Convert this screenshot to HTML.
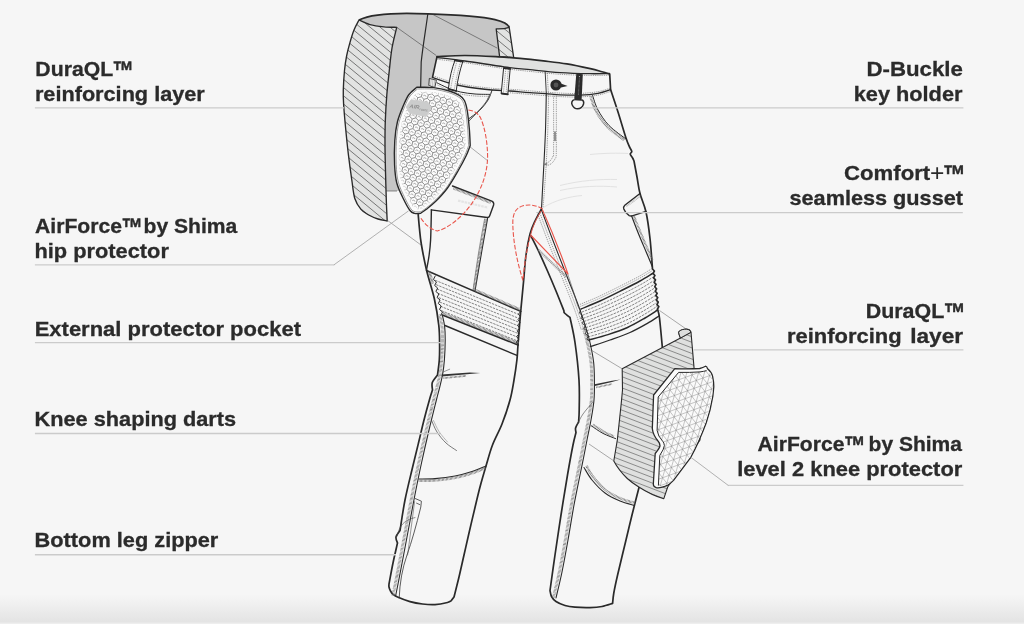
<!DOCTYPE html>
<html><head><meta charset="utf-8"><title>Pants features diagram</title>
<style>
html,body{margin:0;padding:0;background:#f6f6f6;}
body{width:1024px;height:624px;overflow:hidden;font-family:"Liberation Sans",sans-serif;}
svg{display:block;}
</style></head><body>
<svg width="1024" height="624" viewBox="0 0 1024 624">

<defs>
<filter id="noop" x="0" y="0" width="1024" height="624" filterUnits="userSpaceOnUse"><feOffset dx="0" dy="0"/></filter>
<linearGradient id="botg" x1="0" y1="0" x2="0" y2="1">
<stop offset="0" stop-color="#f6f6f6"/><stop offset="1" stop-color="#e3e3e3"/></linearGradient>
<pattern id="hatchA" width="6.4" height="6.4" patternUnits="userSpaceOnUse" patternTransform="translate(343.8 112.5) rotate(39.5)">
<rect width="6.4" height="6.4" fill="#e2e3e2"/><line x1="-1" y1="3.2" x2="7.4" y2="3.2" stroke="#3a3a3a" stroke-width="0.6"/></pattern>
<pattern id="hatchB" width="5.1" height="5.1" patternUnits="userSpaceOnUse" patternTransform="translate(622 371) rotate(21)">
<rect width="5.1" height="5.1" fill="#dfe0df"/><line x1="-1" y1="2.5" x2="6.1" y2="2.5" stroke="#444" stroke-width="0.55"/></pattern>
<pattern id="hex" width="6.2" height="10.74" patternUnits="userSpaceOnUse" patternTransform="translate(417 88) rotate(13)">
<rect width="6.2" height="10.74" fill="#f4f4f4"/>
<g fill="none" stroke="#8a8a8a" stroke-width="0.55">
<path d="M3.1,0.0 L6.2,1.79 L6.2,5.37 L3.1,7.16 L0,5.37 L0,1.79 Z"/>
<path d="M3.1,7.16 L3.1,10.74"/>
<path d="M1.7,4.6 A1.5,1.5 0 0 1 4.5,4.6" stroke="#777"/>
<path d="M-1.4,9.97 A1.5,1.5 0 0 1 1.4,9.97" stroke="#777"/>
<path d="M4.8,9.97 A1.5,1.5 0 0 1 7.6,9.97" stroke="#777"/>
</g></pattern>
<clipPath id="kneeclip"><path d="M658.2,397 L678.6,372.4 Q690,372.6 700,371.9 Q704,371.4 706.6,370.6 Q710.8,373 711.8,377 Q712.9,382 712.9,386.7 L712,395.8 Q709.7,410 705.4,422.4 Q698.2,441.6 690,456.8 L672.8,479.8 Q669.6,483.2 667.3,484.4 Q661,487 658.4,485.6 L659.8,455.4 Q664,449 664.4,445.6 Q664,442.6 662.9,441.6 Q657.8,436 657.1,430.4 Z"/></clipPath>
</defs>
<rect width="1024" height="624" fill="#f6f6f6"/>
<rect x="0" y="594.5" width="1024" height="28.3" fill="url(#botg)"/><rect x="0" y="622.8" width="1024" height="1.2" fill="#eeeeee"/>
<path d="M359,20 C372,13.5 400,12.6 428,13.9 C455,14.8 482,16.6 495,19.6 C503,21.6 508,24 509.3,27.2 L513.7,57.7 L437,57 L425,120 L420,191 L384,191 L384,60 L396.7,27.3 C385,27 370,25 359,20 Z" fill="#c6c6c6"/>
<clipPath id="hc1"><path d="M359.00,20.00 C360.83,20.77 365.83,23.47 370.00,24.60 C374.17,25.73 379.55,26.35 384.00,26.80 C388.45,27.25 394.58,27.22 396.70,27.30 C395.92,30.75 393.23,40.80 392.00,48.00 C390.77,55.20 390.17,62.67 389.30,70.50 C388.43,78.33 387.47,86.58 386.80,95.00 C386.13,103.42 385.60,112.67 385.30,121.00 C385.00,129.33 384.97,136.58 385.00,145.00 C385.03,153.42 385.28,162.33 385.50,171.50 C385.72,180.67 386.02,191.75 386.30,200.00 C386.58,208.25 387.05,217.50 387.20,221.00 C385.67,220.67 381.08,220.00 378.00,219.00 C374.92,218.00 371.53,216.60 368.70,215.00 C365.87,213.40 363.32,212.15 361.00,209.40 C358.68,206.65 356.33,203.40 354.80,198.50 C353.27,193.60 352.87,187.30 351.80,180.00 C350.73,172.70 349.43,163.37 348.40,154.70 C347.37,146.03 346.40,136.45 345.60,128.00 C344.80,119.55 343.98,110.33 343.60,104.00 C343.22,97.67 343.15,95.58 343.30,90.00 C343.45,84.42 343.95,76.17 344.50,70.50 C345.05,64.83 345.68,60.68 346.60,56.00 C347.52,51.32 348.77,46.73 350.00,42.40 C351.23,38.07 352.50,33.73 354.00,30.00 C355.50,26.27 358.17,21.67 359.00,20.00 Z"/></clipPath>
<path d="M359.00,20.00 C360.83,20.77 365.83,23.47 370.00,24.60 C374.17,25.73 379.55,26.35 384.00,26.80 C388.45,27.25 394.58,27.22 396.70,27.30 C395.92,30.75 393.23,40.80 392.00,48.00 C390.77,55.20 390.17,62.67 389.30,70.50 C388.43,78.33 387.47,86.58 386.80,95.00 C386.13,103.42 385.60,112.67 385.30,121.00 C385.00,129.33 384.97,136.58 385.00,145.00 C385.03,153.42 385.28,162.33 385.50,171.50 C385.72,180.67 386.02,191.75 386.30,200.00 C386.58,208.25 387.05,217.50 387.20,221.00 C385.67,220.67 381.08,220.00 378.00,219.00 C374.92,218.00 371.53,216.60 368.70,215.00 C365.87,213.40 363.32,212.15 361.00,209.40 C358.68,206.65 356.33,203.40 354.80,198.50 C353.27,193.60 352.87,187.30 351.80,180.00 C350.73,172.70 349.43,163.37 348.40,154.70 C347.37,146.03 346.40,136.45 345.60,128.00 C344.80,119.55 343.98,110.33 343.60,104.00 C343.22,97.67 343.15,95.58 343.30,90.00 C343.45,84.42 343.95,76.17 344.50,70.50 C345.05,64.83 345.68,60.68 346.60,56.00 C347.52,51.32 348.77,46.73 350.00,42.40 C351.23,38.07 352.50,33.73 354.00,30.00 C355.50,26.27 358.17,21.67 359.00,20.00 Z" fill="#e2e3e2"/>
<path d="M363.6,-44.0L532.2,95.0M359.6,-39.1L528.1,99.9M355.6,-34.2L524.1,104.8M351.5,-29.3L520.0,109.7M347.5,-24.4L516.0,114.6M343.4,-19.5L512.0,119.5M339.4,-14.6L507.9,124.4M335.4,-9.7L503.9,129.3M331.3,-4.8L499.9,134.2M327.3,0.1L495.8,139.1M323.2,5.0L491.8,144.0M319.2,9.9L487.7,148.9M315.2,14.8L483.7,153.8M311.1,19.7L479.7,158.7M307.1,24.6L475.6,163.6M303.1,29.5L471.6,168.5M299.0,34.4L467.5,173.4M295.0,39.3L463.5,178.3M290.9,44.2L459.5,183.2M286.9,49.1L455.4,188.1M282.9,54.0L451.4,193.0M278.8,58.9L447.3,197.9M274.8,63.8L443.3,202.8M270.7,68.7L439.3,207.7M266.7,73.6L435.2,212.6M262.7,78.5L431.2,217.5M258.6,83.4L427.1,222.4M254.6,88.3L423.1,227.3M250.5,93.2L419.1,232.2M246.5,98.1L415.0,237.1M242.5,103.0L411.0,242.0M238.4,107.9L407.0,246.9M234.4,112.8L402.9,251.8M230.3,117.7L398.9,256.7M226.3,122.6L394.8,261.6M222.3,127.5L390.8,266.5M218.2,132.4L386.8,271.4M214.2,137.3L382.7,276.3M210.2,142.2L378.7,281.2" clip-path="url(#hc1)" fill="none" stroke="#3a3a3a" stroke-width="0.65"/>
<path d="M359.00,20.00 C360.83,20.77 365.83,23.47 370.00,24.60 C374.17,25.73 379.55,26.35 384.00,26.80 C388.45,27.25 394.58,27.22 396.70,27.30 C395.92,30.75 393.23,40.80 392.00,48.00 C390.77,55.20 390.17,62.67 389.30,70.50 C388.43,78.33 387.47,86.58 386.80,95.00 C386.13,103.42 385.60,112.67 385.30,121.00 C385.00,129.33 384.97,136.58 385.00,145.00 C385.03,153.42 385.28,162.33 385.50,171.50 C385.72,180.67 386.02,191.75 386.30,200.00 C386.58,208.25 387.05,217.50 387.20,221.00 C385.67,220.67 381.08,220.00 378.00,219.00 C374.92,218.00 371.53,216.60 368.70,215.00 C365.87,213.40 363.32,212.15 361.00,209.40 C358.68,206.65 356.33,203.40 354.80,198.50 C353.27,193.60 352.87,187.30 351.80,180.00 C350.73,172.70 349.43,163.37 348.40,154.70 C347.37,146.03 346.40,136.45 345.60,128.00 C344.80,119.55 343.98,110.33 343.60,104.00 C343.22,97.67 343.15,95.58 343.30,90.00 C343.45,84.42 343.95,76.17 344.50,70.50 C345.05,64.83 345.68,60.68 346.60,56.00 C347.52,51.32 348.77,46.73 350.00,42.40 C351.23,38.07 352.50,33.73 354.00,30.00 C355.50,26.27 358.17,21.67 359.00,20.00 Z" fill="none" stroke="#2a2a2a" stroke-width="1.35" stroke-linejoin="round"/>
<clipPath id="hc2"><path d="M496.2,28.8 C501,29 506,28.4 509.2,27.3 L513.7,57.7 L499.6,56.6 Z"/></clipPath>
<path d="M496.2,28.8 C501,29 506,28.4 509.2,27.3 L513.7,57.7 L499.6,56.6 Z" fill="#e2e3e2"/>
<path d="M507.8,6.6L539.7,32.9M503.7,11.6L535.6,37.9M499.6,16.6L531.5,42.9M495.5,21.5L527.4,47.8M491.4,26.5L523.3,52.8M487.3,31.5L519.2,57.8M483.2,36.5L515.1,62.8M479.1,41.5L511.0,67.7M475.0,46.4L506.9,72.7M470.9,51.4L502.8,77.7M466.8,56.4L498.7,82.7" clip-path="url(#hc2)" fill="none" stroke="#3a3a3a" stroke-width="0.65"/>
<path d="M496.2,28.8 C501,29 506,28.4 509.2,27.3 L513.7,57.7 L499.6,56.6 Z" fill="none" stroke="#2a2a2a" stroke-width="1.3" stroke-linejoin="round"/>
<path d="M359,20 C372,13.5 400,12.6 428,13.9 C455,14.8 482,16.6 495,19.6 C503,21.6 508,24 509.3,27.2" fill="none" stroke="#2a2a2a" stroke-width="1.6"/>
<path d="M427.8,14 C426,28 423,45 421.2,62 L420.6,90" fill="none" stroke="#2a2a2a" stroke-width="1.2"/>
<path d="M432.9,14.5 L497.4,48.2 M396.7,27.3 L436.3,55.5 M386,191 H397" fill="none" stroke="#444" stroke-width="0.6"/>
<path d="M387.6,220.5 L421,245 " fill="none" stroke="#777" stroke-width="0.6"/>
<path d="M437,56.7 C441.67,56.50 454.75,55.48 465.00,55.50 C475.25,55.52 489.33,56.32 498.50,56.80 C507.67,57.28 512.52,57.72 520.00,58.40 C527.48,59.08 535.58,59.98 543.40,60.90 C551.22,61.82 559.08,62.60 566.90,63.90 C574.72,65.20 584.45,67.38 590.30,68.70 C596.15,70.02 598.77,70.92 602.00,71.80 C605.23,72.68 608.42,73.63 609.70,74.00 L610.60,89.60 C611.83,93.33 615.43,103.93 618.00,112.00 C620.57,120.07 624.08,132.17 626.00,138.00 C627.92,143.83 628.92,145.50 629.50,147.00 C629.88,147.75 631.68,150.33 631.80,151.50 C631.92,152.67 630.07,152.92 630.20,154.00 C630.33,155.08 631.97,156.83 632.60,158.00 C633.23,159.17 633.77,160.50 634.00,161.00 C634.50,163.67 636.00,171.58 637.00,177.00 C638.00,182.42 638.50,187.67 640.00,193.50 C641.50,199.33 644.33,204.50 646.00,212.00 C647.67,219.50 648.92,229.00 650.00,238.50 C651.08,248.00 652.08,263.92 652.50,269.00 L652.50,269.00 L654.37,271.02 L653.06,273.44 L654.92,275.47 L653.61,277.89 L655.48,279.91 L654.17,282.33 L656.03,284.36 L654.72,286.78 L656.59,288.80 L655.28,291.22 L657.14,293.25 L655.83,295.67 L657.70,297.69 L656.39,300.11 L658.25,302.13 L656.94,304.56 L658.81,306.58 L657.50,309.00 C657.83,310.50 658.67,311.33 659.50,318.00 C660.33,324.67 661.92,337.83 662.50,349.00 C663.08,360.17 663.75,371.50 663.00,385.00 C662.25,398.50 660.17,417.17 658.00,430.00 C655.83,442.83 653.17,452.42 650.00,462.00 C646.83,471.58 640.83,483.25 639.00,487.50 C637.83,492.08 634.17,506.25 632.00,515.00 C629.83,523.75 628.40,530.00 626.00,540.00 C623.60,550.00 619.63,566.17 617.60,575.00 C615.57,583.83 614.63,588.27 613.80,593.00 C612.97,597.73 612.80,601.67 612.60,603.40 C610.83,603.92 605.77,605.80 602.00,606.50 C598.23,607.20 594.50,607.48 590.00,607.60 C585.50,607.72 579.17,607.55 575.00,607.20 C570.83,606.85 568.17,606.45 565.00,605.50 C561.83,604.55 558.25,603.00 556.00,601.50 C553.75,600.00 552.50,598.33 551.50,596.50 C550.50,594.67 550.25,591.50 550.00,590.50 C550.83,584.58 553.17,567.58 555.00,555.00 C556.83,542.42 558.92,528.33 561.00,515.00 C563.08,501.67 565.50,486.67 567.50,475.00 C569.50,463.33 571.58,452.08 573.00,445.00 C574.42,437.92 575.50,434.58 576.00,432.50 C575.93,431.75 575.17,429.75 575.60,428.00 C576.03,426.25 578.10,423.00 578.60,422.00 C578.70,420.00 579.13,417.00 579.20,410.00 C579.27,403.00 579.70,391.25 579.00,380.00 C578.30,368.75 576.50,352.92 575.00,342.50 C573.50,332.08 570.83,321.67 570.00,317.50 C569.08,316.75 565.50,314.08 564.50,313.00 C563.50,311.92 564.08,311.33 564.00,311.00 C562.67,307.67 558.75,297.67 556.00,291.00 C553.25,284.33 550.50,277.83 547.50,271.00 C544.50,264.17 540.75,255.83 538.00,250.00 C535.25,244.17 532.17,238.33 531.00,236.00 L530.00,234.00 C529.33,237.50 527.07,247.17 526.00,255.00 C524.93,262.83 524.48,271.60 523.60,281.00 C522.72,290.40 521.63,300.73 520.70,311.40 C519.77,322.07 518.63,336.90 518.00,345.00 C517.37,353.10 517.57,354.17 516.90,360.00 C516.23,365.83 515.15,373.33 514.00,380.00 C512.85,386.67 512.00,392.67 510.00,400.00 C508.00,407.33 504.92,416.50 502.00,424.00 C499.08,431.50 495.17,438.00 492.50,445.00 C489.83,452.00 488.08,459.00 486.00,466.00 C483.92,473.00 481.83,480.08 480.00,487.00 C478.17,493.92 476.83,499.83 475.00,507.50 C473.17,515.17 470.83,525.08 469.00,533.00 C467.17,540.92 465.67,547.67 464.00,555.00 C462.33,562.33 460.67,570.00 459.00,577.00 C457.33,584.00 454.83,593.67 454.00,597.00 C453.50,597.63 452.08,599.88 451.00,600.80 C449.92,601.72 450.17,601.87 447.50,602.50 C444.83,603.13 439.17,604.35 435.00,604.60 C430.83,604.85 426.67,604.50 422.50,604.00 C418.33,603.50 414.17,602.77 410.00,601.60 C405.83,600.43 400.33,598.22 397.50,597.00 C394.67,595.78 394.17,595.30 393.00,594.30 C391.83,593.30 391.17,592.22 390.50,591.00 C389.83,589.78 389.25,588.17 389.00,587.00 C388.75,585.83 389.00,584.50 389.00,584.00 C389.67,580.50 391.58,569.83 393.00,563.00 C394.42,556.17 396.75,546.33 397.50,543.00 C397.25,542.00 395.58,539.08 396.00,537.00 C396.42,534.92 399.33,531.58 400.00,530.50 C400.83,525.42 402.93,510.42 405.00,500.00 C407.07,489.58 410.13,477.58 412.40,468.00 C414.67,458.42 416.67,450.50 418.60,442.50 C420.53,434.50 422.20,427.08 424.00,420.00 C425.80,412.92 427.98,405.00 429.40,400.00 C430.82,395.00 431.98,391.67 432.50,390.00 C432.47,388.75 431.47,385.00 432.30,382.50 C433.13,380.00 436.63,376.25 437.50,375.00 C437.80,372.50 438.95,365.00 439.30,360.00 C439.65,355.00 439.68,350.75 439.60,345.00 C439.52,339.25 439.67,333.17 438.80,325.50 C437.93,317.83 436.45,308.25 434.40,299.00 C432.35,289.75 428.68,279.17 426.50,270.00 C424.32,260.83 422.48,251.00 421.30,244.00 C420.12,237.00 419.92,232.92 419.40,228.00 C418.88,223.08 418.40,216.75 418.20,214.50 C418.67,203.75 419.20,171.42 421.00,150.00 C422.80,128.58 427.50,97.83 429.00,86.00 C430.50,74.17 429.42,80.43 430.00,79.00 C430.58,77.57 432.08,77.67 432.50,77.40 L437.00,56.70 Z" fill="#f6f6f6"/>
<path d="M437,56.7 C441.67,56.50 454.75,55.48 465.00,55.50 C475.25,55.52 489.33,56.32 498.50,56.80 C507.67,57.28 512.52,57.72 520.00,58.40 C527.48,59.08 535.58,59.98 543.40,60.90 C551.22,61.82 559.08,62.60 566.90,63.90 C574.72,65.20 584.45,67.38 590.30,68.70 C596.15,70.02 598.77,70.92 602.00,71.80 C605.23,72.68 608.42,73.63 609.70,74.00 L609.5,73.5 C606.25,73.53 598.25,73.85 590.00,73.70 C581.75,73.55 570.00,73.27 560.00,72.60 C550.00,71.93 539.32,70.67 530.00,69.70 C520.68,68.73 514.95,68.25 504.10,66.80 C493.25,65.35 476.02,62.53 464.90,61.00 C453.78,59.47 441.98,58.17 437.40,57.60 Z" fill="#e0e1e0"/>
<path d="M590,154.5 C605,153 618,153 628,153.5" fill="none" stroke="#e2e2e2" stroke-width="1"/>
<path d="M560,185.5 C580,180.5 600,179 617,179.5" fill="none" stroke="#e2e2e2" stroke-width="1"/>
<path d="M560,190.5 C580,186 600,185.5 617,187" fill="none" stroke="#e2e2e2" stroke-width="1"/>
<path d="M542.5,208 C555,200 570,196.5 582,195.5" fill="none" stroke="#e2e2e2" stroke-width="1"/>
<path d="M437.00,56.70 C441.67,56.50 454.75,55.48 465.00,55.50 C475.25,55.52 489.33,56.32 498.50,56.80 C507.67,57.28 512.52,57.72 520.00,58.40 C527.48,59.08 535.58,59.98 543.40,60.90 C551.22,61.82 559.08,62.60 566.90,63.90 C574.72,65.20 584.45,67.38 590.30,68.70 C596.15,70.02 598.77,70.92 602.00,71.80 C605.23,72.68 608.42,73.63 609.70,74.00 L610.60,89.60 C611.83,93.33 615.43,103.93 618.00,112.00 C620.57,120.07 624.08,132.17 626.00,138.00 C627.92,143.83 628.92,145.50 629.50,147.00 C629.88,147.75 631.68,150.33 631.80,151.50 C631.92,152.67 630.07,152.92 630.20,154.00 C630.33,155.08 631.97,156.83 632.60,158.00 C633.23,159.17 633.77,160.50 634.00,161.00 C634.50,163.67 636.00,171.58 637.00,177.00 C638.00,182.42 638.50,187.67 640.00,193.50 C641.50,199.33 644.33,204.50 646.00,212.00 C647.67,219.50 648.92,229.00 650.00,238.50 C651.08,248.00 652.08,263.92 652.50,269.00 L652.50,269.00 L654.37,271.02 L653.06,273.44 L654.92,275.47 L653.61,277.89 L655.48,279.91 L654.17,282.33 L656.03,284.36 L654.72,286.78 L656.59,288.80 L655.28,291.22 L657.14,293.25 L655.83,295.67 L657.70,297.69 L656.39,300.11 L658.25,302.13 L656.94,304.56 L658.81,306.58 L657.50,309.00 C657.83,310.50 658.67,311.33 659.50,318.00 C660.33,324.67 662.00,343.83 662.50,349.00 " fill="none" stroke="#2a2a2a" stroke-width="1.7" stroke-linejoin="round" stroke-linecap="round" />
<path d="M639.00,487.50 C637.83,492.08 634.17,506.25 632.00,515.00 C629.83,523.75 628.40,530.00 626.00,540.00 C623.60,550.00 619.63,566.17 617.60,575.00 C615.57,583.83 614.63,588.27 613.80,593.00 C612.97,597.73 612.80,601.67 612.60,603.40 C610.83,603.92 605.77,605.80 602.00,606.50 C598.23,607.20 594.50,607.48 590.00,607.60 C585.50,607.72 579.17,607.55 575.00,607.20 C570.83,606.85 568.17,606.45 565.00,605.50 C561.83,604.55 558.25,603.00 556.00,601.50 C553.75,600.00 552.50,598.33 551.50,596.50 C550.50,594.67 550.25,591.50 550.00,590.50 C550.83,584.58 553.17,567.58 555.00,555.00 C556.83,542.42 558.92,528.33 561.00,515.00 C563.08,501.67 565.50,486.67 567.50,475.00 C569.50,463.33 571.58,452.08 573.00,445.00 C574.42,437.92 575.50,434.58 576.00,432.50 C575.93,431.75 575.17,429.75 575.60,428.00 C576.03,426.25 578.10,423.00 578.60,422.00 C578.70,420.00 579.13,417.00 579.20,410.00 C579.27,403.00 579.70,391.25 579.00,380.00 C578.30,368.75 576.50,352.92 575.00,342.50 C573.50,332.08 570.83,321.67 570.00,317.50 C569.08,316.75 565.50,314.08 564.50,313.00 C563.50,311.92 564.08,311.33 564.00,311.00 C562.67,307.67 558.75,297.67 556.00,291.00 C553.25,284.33 550.50,277.83 547.50,271.00 C544.50,264.17 540.75,255.83 538.00,250.00 C535.25,244.17 532.17,238.33 531.00,236.00 " fill="none" stroke="#2a2a2a" stroke-width="1.7" stroke-linejoin="round" stroke-linecap="round" />
<path d="M541.50,209.00 C540.42,211.00 536.92,216.83 535.00,221.00 C533.08,225.17 531.50,228.33 530.00,234.00 C528.50,239.67 527.07,247.17 526.00,255.00 C524.93,262.83 524.48,271.60 523.60,281.00 C522.72,290.40 521.63,300.73 520.70,311.40 C519.77,322.07 518.63,336.90 518.00,345.00 C517.37,353.10 517.57,354.17 516.90,360.00 C516.23,365.83 515.15,373.33 514.00,380.00 C512.85,386.67 512.00,392.67 510.00,400.00 C508.00,407.33 504.92,416.50 502.00,424.00 C499.08,431.50 495.17,438.00 492.50,445.00 C489.83,452.00 488.08,459.00 486.00,466.00 C483.92,473.00 481.83,480.08 480.00,487.00 C478.17,493.92 476.83,499.83 475.00,507.50 C473.17,515.17 470.83,525.08 469.00,533.00 C467.17,540.92 465.67,547.67 464.00,555.00 C462.33,562.33 460.67,570.00 459.00,577.00 C457.33,584.00 454.83,593.67 454.00,597.00 C453.50,597.63 452.08,599.88 451.00,600.80 C449.92,601.72 450.17,601.87 447.50,602.50 C444.83,603.13 439.17,604.35 435.00,604.60 C430.83,604.85 426.67,604.50 422.50,604.00 C418.33,603.50 414.17,602.77 410.00,601.60 C405.83,600.43 400.33,598.22 397.50,597.00 C394.67,595.78 394.17,595.30 393.00,594.30 C391.83,593.30 391.17,592.22 390.50,591.00 C389.83,589.78 389.25,588.17 389.00,587.00 C388.75,585.83 389.00,584.50 389.00,584.00 C389.67,580.50 391.58,569.83 393.00,563.00 C394.42,556.17 396.75,546.33 397.50,543.00 C397.25,542.00 395.58,539.08 396.00,537.00 C396.42,534.92 399.33,531.58 400.00,530.50 C400.83,525.42 402.93,510.42 405.00,500.00 C407.07,489.58 410.13,477.58 412.40,468.00 C414.67,458.42 416.67,450.50 418.60,442.50 C420.53,434.50 422.20,427.08 424.00,420.00 C425.80,412.92 427.98,405.00 429.40,400.00 C430.82,395.00 431.98,391.67 432.50,390.00 C432.47,388.75 431.47,385.00 432.30,382.50 C433.13,380.00 436.63,376.25 437.50,375.00 C437.80,372.50 438.95,365.00 439.30,360.00 C439.65,355.00 439.68,350.75 439.60,345.00 C439.52,339.25 439.67,333.17 438.80,325.50 C437.93,317.83 436.45,308.25 434.40,299.00 C432.35,289.75 428.68,279.17 426.50,270.00 C424.32,260.83 422.48,251.00 421.30,244.00 C420.12,237.00 419.92,232.92 419.40,228.00 C418.88,223.08 418.40,216.75 418.20,214.50 " fill="none" stroke="#2a2a2a" stroke-width="1.7" stroke-linejoin="round" stroke-linecap="round" />
<path d="M432.50,77.40 L437.00,56.70 " fill="none" stroke="#2a2a2a" stroke-width="1.6" stroke-linejoin="round" stroke-linecap="round" />
<path d="M437.40,57.60 C441.98,58.17 453.78,59.47 464.90,61.00 C476.02,62.53 493.25,65.35 504.10,66.80 C514.95,68.25 520.68,68.73 530.00,69.70 C539.32,70.67 550.00,71.93 560.00,72.60 C570.00,73.27 581.75,73.55 590.00,73.70 C598.25,73.85 606.25,73.53 609.50,73.50 " fill="none" stroke="#2a2a2a" stroke-width="1.3" stroke-linejoin="round" stroke-linecap="round" />
<path d="M432.50,77.40 C435.30,78.33 443.50,81.40 449.30,83.00 C455.10,84.60 460.18,85.83 467.30,87.00 C474.42,88.17 484.88,89.33 492.00,90.00 C499.12,90.67 503.67,90.57 510.00,91.00 C516.33,91.43 521.67,91.97 530.00,92.60 C538.33,93.23 551.67,94.38 560.00,94.80 C568.33,95.22 573.67,95.35 580.00,95.10 C586.33,94.85 592.90,94.22 598.00,93.30 C603.10,92.38 608.50,90.22 610.60,89.60 " fill="none" stroke="#2a2a2a" stroke-width="1.3" stroke-linejoin="round" stroke-linecap="round" />
<path d="M437.40,59.30 C441.98,59.87 453.78,61.17 464.90,62.70 C476.02,64.23 493.25,67.05 504.10,68.50 C514.95,69.95 520.68,70.43 530.00,71.40 C539.32,72.37 550.00,73.63 560.00,74.30 C570.00,74.97 581.75,75.25 590.00,75.40 C598.25,75.55 606.25,75.23 609.50,75.20 " fill="none" stroke="#555" stroke-width="0.55" stroke-dasharray="1.3 0.9"/>
<path d="M432.80,75.70 C435.60,76.63 443.80,79.70 449.60,81.30 C455.40,82.90 460.48,84.13 467.60,85.30 C474.72,86.47 485.18,87.63 492.30,88.30 C499.42,88.97 503.97,88.87 510.30,89.30 C516.63,89.73 521.97,90.27 530.30,90.90 C538.63,91.53 551.97,92.68 560.30,93.10 C568.63,93.52 573.97,93.65 580.30,93.40 C586.63,93.15 593.20,92.52 598.30,91.60 C603.40,90.68 608.80,88.52 610.90,87.90 " fill="none" stroke="#555" stroke-width="0.55" stroke-dasharray="1.3 0.9"/>
<path d="M510.00,92.80 C513.33,93.07 521.67,93.77 530.00,94.40 C538.33,95.03 551.67,96.18 560.00,96.60 C568.33,97.02 573.67,97.15 580.00,96.90 C586.33,96.65 592.90,96.02 598.00,95.10 C603.10,94.18 608.50,92.02 610.60,91.40 " fill="none" stroke="#555" stroke-width="0.55" stroke-dasharray="1.3 0.9"/>
<path d="M437.00,82.80 C438.83,83.67 444.08,86.47 448.00,88.00 C451.92,89.53 456.00,91.00 460.50,92.00 C465.00,93.00 470.13,93.60 475.00,94.00 C479.87,94.40 487.25,94.33 489.70,94.40 " fill="none" stroke="#2a2a2a" stroke-width="1.0" stroke-linejoin="round" stroke-linecap="round" />
<path d="M437.50,85.00 C439.25,85.83 444.17,88.50 448.00,90.00 C451.83,91.50 456.00,93.00 460.50,94.00 C465.00,95.00 470.42,95.62 475.00,96.00 C479.58,96.38 485.83,96.25 488.00,96.30 " fill="none" stroke="#555" stroke-width="0.55" stroke-dasharray="1.3 0.9"/>
<path d="M429.7,78.5 L436.4,80.2 L434.8,87.5 L429.2,85.6 Z" fill="#f6f6f6" stroke="#2a2a2a" stroke-width="0.9" stroke-linejoin="round" stroke-linecap="round" />
<path d="M431.2,79 L430.6,86 M433,79.4 L432.4,86.6 M434.8,79.8 L433.9,87.2" fill="none" stroke="#666" stroke-width="0.4" stroke-linejoin="round" stroke-linecap="round" />
<path d="M455,60.3 L462.8,61.6 C460,70 457.5,80 456.2,91 L448.4,88.8 C449.5,78 452,68 455,60.3 Z" fill="#f6f6f6" stroke="#2a2a2a" stroke-width="1.0" stroke-linejoin="round" stroke-linecap="round" />
<path d="M457,61 C454.5,70 452,80 450.6,89.3 M460.6,61.6 C458,71 455.6,81 454.2,90.3" fill="none" stroke="#555" stroke-width="0.5" stroke-dasharray="1.3 0.9"/>
<path d="M455,60.3 L462.8,61.6 M448.4,88.8 L456.2,91" fill="none" stroke="#2a2a2a" stroke-width="1.8" stroke-linejoin="round" stroke-linecap="round" />
<path d="M504,68 L510.2,68.8 L507.8,94.3 L501.6,93.5 Z" fill="#f6f6f6" stroke="#2a2a2a" stroke-width="1.0" stroke-linejoin="round" stroke-linecap="round" />
<path d="M505.8,68.6 L503.4,93.6 M508.4,68.9 L506,94" fill="none" stroke="#555" stroke-width="0.5" stroke-dasharray="1.3 0.9"/>
<path d="M504,68 L510.2,68.8 M501.6,93.5 L507.8,94.3" fill="none" stroke="#2a2a2a" stroke-width="1.8" stroke-linejoin="round" stroke-linecap="round" />
<path d="M546.30,93.30 C546.17,99.42 545.90,118.22 545.50,130.00 C545.10,141.78 544.40,154.00 543.90,164.00 C543.40,174.00 542.90,182.50 542.50,190.00 C542.10,197.50 541.67,205.83 541.50,209.00 " fill="none" stroke="#2a2a2a" stroke-width="1.1" stroke-linejoin="round" stroke-linecap="round" />
<path d="M548.60,94.00 C548.47,100.00 548.20,118.33 547.80,130.00 C547.40,141.67 546.78,153.67 546.20,164.00 C545.62,174.33 544.83,184.83 544.30,192.00 C543.77,199.17 543.22,204.50 543.00,207.00 " fill="none" stroke="#555" stroke-width="0.55" stroke-dasharray="1.3 0.9"/>
<path d="M553.60,95.50 C553.60,104.58 553.70,139.92 553.60,150.00 C553.50,160.08 553.60,154.17 553.00,156.00 C552.40,157.83 551.25,159.75 550.00,161.00 C548.75,162.25 546.25,163.08 545.50,163.50 " fill="none" stroke="#555" stroke-width="0.55" stroke-dasharray="1.3 0.9"/>
<path d="M556.30,95.50 C556.30,104.75 556.45,140.58 556.30,151.00 C556.15,161.42 556.20,155.92 555.40,158.00 C554.60,160.08 553.07,162.17 551.50,163.50 C549.93,164.83 546.92,165.58 546.00,166.00 " fill="none" stroke="#555" stroke-width="0.55" stroke-dasharray="1.3 0.9"/>
<path d="M555,132 V140.4" fill="none" stroke="#777" stroke-width="1.6" stroke-linejoin="round" stroke-linecap="round" />
<path d="M544.4,164.4 L546.6,164" fill="none" stroke="#777" stroke-width="1.6" stroke-linejoin="round" stroke-linecap="round" />
<path d="M545.2,72.3 L546.3,93.3" fill="none" stroke="#2a2a2a" stroke-width="0.9" stroke-linejoin="round" stroke-linecap="round" />
<path d="M547.3,73 L548.4,93.5" fill="none" stroke="#555" stroke-width="0.55" stroke-dasharray="1.3 0.9"/>
<circle cx="556" cy="85" r="5.6" fill="#2b2b2b"/><circle cx="556" cy="85" r="2.4" fill="#555"/>
<path d="M560.8,83.6 L567.6,86 L561,87.4 Z" fill="#2b2b2b"/>
<path d="M576.3,73.6 L582.8,74.2 L581.6,100.8 L574.2,100.2 Z" fill="#2b2b2b"/>
<path d="M579.4,78.5 L578.4,95" stroke="#8a8a8a" stroke-width="0.7" stroke-dasharray="0.8 0.5" fill="none"/><circle cx="579.5" cy="76.6" r="0.6" fill="#bbb"/>
<path d="M574.4,99.6 C571.4,100.4 571.4,103.4 572.2,105 C573.4,107.6 575.4,108.8 577.6,108.8 C580,108.8 582.4,107.2 583.4,104.6 C584,102.6 583.4,100.4 581.4,99.8" fill="none" stroke="#2b2b2b" stroke-width="1.5"/>
<path d="M592.60,95.60 C593.50,98.00 595.27,105.02 598.00,110.00 C600.73,114.98 604.30,120.63 609.00,125.50 C613.70,130.37 623.33,136.92 626.20,139.20 " fill="none" stroke="#2a2a2a" stroke-width="1.0" stroke-linejoin="round" stroke-linecap="round" />
<path d="M590.60,96.50 C591.50,98.90 593.27,105.92 596.00,110.90 C598.73,115.88 602.30,121.53 607.00,126.40 C611.70,131.27 621.33,137.82 624.20,140.10 " fill="none" stroke="#686868" stroke-width="2.6" stroke-dasharray="0.6 0.7"/>
<path d="M492.00,90.30 C491.33,91.92 490.08,96.63 488.00,100.00 C485.92,103.37 482.77,107.33 479.50,110.50 C476.23,113.67 470.25,117.58 468.40,119.00 " fill="none" stroke="#2a2a2a" stroke-width="1.0" stroke-linejoin="round" stroke-linecap="round" />
<path d="M489.70,94.40 C489.08,95.67 487.95,99.15 486.00,102.00 C484.05,104.85 480.90,108.25 478.00,111.50 C475.10,114.75 470.17,119.83 468.60,121.50 " fill="none" stroke="#2a2a2a" stroke-width="0.8" stroke-linejoin="round" stroke-linecap="round" />
<path d="M491.00,92.00 C490.33,93.50 489.03,97.83 487.00,101.00 C484.97,104.17 481.88,107.80 478.80,111.00 C475.72,114.20 470.22,118.67 468.50,120.20 " fill="none" stroke="#888" stroke-width="0.9" stroke-dasharray="0.5 0.7"/>
<path d="M640,193.5 L624.8,205.2 Q623,206.8 623.8,209 Q625.6,213.6 629.2,215.6 Q631,216.4 633,215.6 L646,211.4" fill="none" stroke="#2a2a2a" stroke-width="1.4" stroke-linejoin="round" stroke-linecap="round" />
<path d="M626.6,206.3 L641,195.5" fill="none" stroke="#666" stroke-width="1.4" stroke-dasharray="0.4 0.9"/>
<path d="M631.60,216.00 C632.77,219.00 636.17,228.00 638.60,234.00 C641.03,240.00 643.90,246.55 646.20,252.00 C648.50,257.45 651.37,264.25 652.40,266.70 " fill="none" stroke="#2a2a2a" stroke-width="1.2" stroke-linejoin="round" stroke-linecap="round" />
<path d="M634.00,216.40 C635.13,219.17 638.47,227.40 640.80,233.00 C643.13,238.60 646.07,245.50 648.00,250.00 C649.93,254.50 651.67,258.33 652.40,260.00 " fill="none" stroke="#686868" stroke-width="2.2" stroke-dasharray="0.6 0.7"/>
<path d="M452.5,186 L491.8,201.2 Q494.3,202.4 493.6,205 L489.6,216 Q489,217.8 487,217.5 L431.2,209.9" fill="none" stroke="#2a2a2a" stroke-width="1.4" stroke-linejoin="round" stroke-linecap="round" />
<path d="M453.6,188.3 L491,202.8" fill="none" stroke="#686868" stroke-width="2.6" stroke-dasharray="0.6 0.7"/>
<path d="M431.40,209.90 C431.27,214.92 431.00,232.32 430.60,240.00 C430.20,247.68 429.67,251.08 429.00,256.00 C428.33,260.92 427.00,267.25 426.60,269.50 " fill="none" stroke="#2a2a2a" stroke-width="1.4" stroke-linejoin="round" stroke-linecap="round" />
<path d="M487.60,218.40 C486.67,223.67 484.10,237.90 482.00,250.00 C479.90,262.10 476.17,284.17 475.00,291.00 " fill="none" stroke="#2a2a2a" stroke-width="1.1" stroke-linejoin="round" stroke-linecap="round" />
<path d="M484.60,219.00 C483.67,224.17 480.93,238.13 479.00,250.00 C477.07,261.87 474.00,283.50 473.00,290.20 " fill="none" stroke="#555" stroke-width="0.6" stroke-linejoin="round" stroke-linecap="round" />
<path d="M486.00,219.00 C485.07,224.17 482.40,238.07 480.40,250.00 C478.40,261.93 475.07,283.83 474.00,290.60 " fill="none" stroke="#686868" stroke-width="2.6" stroke-dasharray="0.6 0.7"/>
<path d="M458,200.6 L488,207.6" stroke="#e4e4e4" stroke-width="2.2" stroke-dasharray="2.6 0.8" fill="none"/>
<path d="M435.28,280.33 L520.40,315.13 " fill="none" stroke="#333" stroke-width="0.6" stroke-dasharray="2.4 1.0"/>
<path d="M436.16,284.67 L520.10,318.87 " fill="none" stroke="#333" stroke-width="0.6" stroke-dasharray="2.4 1.0"/>
<path d="M437.03,289.00 L519.80,322.60 " fill="none" stroke="#333" stroke-width="0.6" stroke-dasharray="2.4 1.0"/>
<path d="M437.91,293.33 L519.50,326.33 " fill="none" stroke="#333" stroke-width="0.6" stroke-dasharray="2.4 1.0"/>
<path d="M438.79,297.67 L519.20,330.07 " fill="none" stroke="#333" stroke-width="0.6" stroke-dasharray="2.4 1.0"/>
<path d="M439.67,302.00 L518.90,333.80 " fill="none" stroke="#333" stroke-width="0.6" stroke-dasharray="2.4 1.0"/>
<path d="M440.54,306.33 L518.60,337.53 " fill="none" stroke="#333" stroke-width="0.6" stroke-dasharray="2.4 1.0"/>
<path d="M441.42,310.67 L518.30,341.27 " fill="none" stroke="#333" stroke-width="0.6" stroke-dasharray="2.4 1.0"/>
<path d="M426.50,270.50 L520.70,311.40 " fill="none" stroke="#2a2a2a" stroke-width="1.5" stroke-linejoin="round" stroke-linecap="round" />
<path d="M442.30,315.00 L518.00,345.00 " fill="none" stroke="#2a2a2a" stroke-width="1.5" stroke-linejoin="round" stroke-linecap="round" />
<path d="M445.00,325.50 L516.90,355.40 " fill="none" stroke="#2a2a2a" stroke-width="1.4" stroke-linejoin="round" stroke-linecap="round" />
<path d="M443.00,313.20 L518.40,343.20 " fill="none" stroke="#686868" stroke-width="2.6" stroke-dasharray="0.6 0.7"/>
<path d="M475.50,290.20 L521.00,309.90 " fill="none" stroke="#686868" stroke-width="2.6" stroke-dasharray="0.6 0.7"/>
<path d="M435.20,276.00 L433.46,279.48 L436.42,282.00 L434.67,285.48 L437.63,288.00 L435.89,291.48 L438.85,294.00 L437.10,297.48 L440.06,300.00 L438.32,303.48 L441.28,306.00 L439.53,309.48 L442.49,312.00 L440.75,315.48 " fill="none" stroke="#2a2a2a" stroke-width="1.0" stroke-linejoin="round" stroke-linecap="round" />
<path d="M520.90,311.40 L518.48,314.02 L520.45,317.00 L518.03,319.62 L520.00,322.60 L517.58,325.22 L519.55,328.20 L517.13,330.82 L519.10,333.80 L516.68,336.42 L518.65,339.40 L516.23,342.02 L518.20,345.00 " fill="none" stroke="#2a2a2a" stroke-width="0.9" stroke-linejoin="round" stroke-linecap="round" />
<path d="M442.30,315.00 C442.68,316.83 444.12,321.83 444.60,326.00 C445.08,330.17 445.23,334.33 445.20,340.00 C445.17,345.67 444.85,354.17 444.40,360.00 C443.95,365.83 443.32,370.33 442.50,375.00 C441.68,379.67 440.52,383.83 439.50,388.00 C438.48,392.17 438.15,393.00 436.40,400.00 C434.65,407.00 431.47,419.58 429.00,430.00 C426.53,440.42 423.95,451.67 421.60,462.50 C419.25,473.33 416.80,485.42 414.90,495.00 C413.00,504.58 412.08,510.00 410.20,520.00 C408.32,530.00 405.50,545.00 403.60,555.00 C401.70,565.00 400.13,573.17 398.80,580.00 C397.47,586.83 396.13,593.33 395.60,596.00 " fill="none" stroke="#2a2a2a" stroke-width="1.1" stroke-linejoin="round" stroke-linecap="round" />
<path d="M439.60,314.60 C439.98,316.43 441.42,321.43 441.90,325.60 C442.38,329.77 442.53,333.93 442.50,339.60 C442.47,345.27 442.15,353.77 441.70,359.60 C441.25,365.43 440.62,369.93 439.80,374.60 C438.98,379.27 437.82,383.43 436.80,387.60 C435.78,391.77 435.45,392.60 433.70,399.60 C431.95,406.60 428.77,419.18 426.30,429.60 C423.83,440.02 421.25,451.27 418.90,462.10 C416.55,472.93 414.10,485.02 412.20,494.60 C410.30,504.18 409.38,509.60 407.50,519.60 C405.62,529.60 402.80,544.60 400.90,554.60 C399.00,564.60 397.43,572.77 396.10,579.60 C394.77,586.43 393.43,592.93 392.90,595.60 " fill="none" stroke="#747474" stroke-width="3.0" stroke-dasharray="0.55 0.75"/>
<path d="M429.50,271.50 L433.00,284.00 " fill="none" stroke="#686868" stroke-width="2.6" stroke-dasharray="0.6 0.7"/>
<path d="M441.4,374.4 L469.7,372.5 L480.4,373 L469.7,373.9 L441.6,376.6 Z" fill="#333"/>
<path d="M443.6,378.1 L466,375.9" fill="none" stroke="#555" stroke-width="1.8" stroke-dasharray="0.6 0.7"/>
<path d="M443.2,372 L449.7,369.2" fill="none" stroke="#555" stroke-width="0.6" stroke-linejoin="round" stroke-linecap="round" />
<path d="M431.40,420.00 C432.33,422.00 434.57,428.17 437.00,432.00 C439.43,435.83 442.75,439.92 446.00,443.00 C449.25,446.08 454.75,449.25 456.50,450.50 " fill="none" stroke="#444" stroke-width="0.7" stroke-linejoin="round" stroke-linecap="round" />
<path d="M433.50,420.50 C434.42,422.33 436.67,427.92 439.00,431.50 C441.33,435.08 446.08,440.25 447.50,442.00 " fill="none" stroke="#777" stroke-width="0.5" stroke-linejoin="round" stroke-linecap="round" />
<path d="M419.00,479.00 C421.67,478.93 429.00,479.10 435.00,478.60 C441.00,478.10 448.83,477.18 455.00,476.00 C461.17,474.82 466.83,473.17 472.00,471.50 C477.17,469.83 483.67,466.92 486.00,466.00 " fill="none" stroke="#2a2a2a" stroke-width="1.2" stroke-linejoin="round" stroke-linecap="round" />
<path d="M418.80,480.80 C421.50,480.73 428.97,480.90 435.00,480.40 C441.03,479.90 448.83,478.98 455.00,477.80 C461.17,476.62 466.93,474.95 472.00,473.30 C477.07,471.65 483.17,468.80 485.40,467.90 " fill="none" stroke="#686868" stroke-width="2.6" stroke-dasharray="0.6 0.7"/>
<path d="M415.4,498.6 L421.4,501.2 L420.8,507 Q414,535 407,555 T399.2,598" fill="none" stroke="#333" stroke-width="0.8" stroke-linejoin="round" stroke-linecap="round" />
<path d="M416.6,503.2 L419.8,504.6" fill="none" stroke="#2a2a2a" stroke-width="0.7" stroke-linejoin="round" stroke-linecap="round" />
<path d="M414.6,501.6 L407.6,555" fill="none" stroke="#555" stroke-width="0.6" stroke-linejoin="round" stroke-linecap="round" />
<path d="M396.40,537.00 C397.17,535.17 399.07,528.83 401.00,526.00 C402.93,523.17 405.67,521.40 408.00,520.00 C410.33,518.60 413.83,518.00 415.00,517.60 " fill="none" stroke="#444" stroke-width="0.6" stroke-linejoin="round" stroke-linecap="round" />
<path d="M541.50,210.00 C543.25,214.67 547.92,227.33 552.00,238.00 C556.08,248.67 562.33,264.67 566.00,274.00 C569.67,283.33 571.67,288.00 574.00,294.00 C576.33,300.00 578.00,304.33 580.00,310.00 C582.00,315.67 584.33,322.58 586.00,328.00 C587.67,333.42 588.73,336.83 590.00,342.50 C591.27,348.17 592.87,355.75 593.60,362.00 C594.33,368.25 594.33,373.67 594.40,380.00 C594.47,386.33 594.57,393.33 594.00,400.00 C593.43,406.67 592.17,413.33 591.00,420.00 C589.83,426.67 588.25,433.67 587.00,440.00 C585.75,446.33 584.67,452.17 583.50,458.00 C582.33,463.83 581.58,467.17 580.00,475.00 C578.42,482.83 576.00,494.17 574.00,505.00 C572.00,515.83 570.00,528.83 568.00,540.00 C566.00,551.17 564.00,562.33 562.00,572.00 C560.00,581.67 557.00,593.67 556.00,598.00 " fill="none" stroke="#2a2a2a" stroke-width="1.1" stroke-linejoin="round" stroke-linecap="round" />
<path d="M539.10,211.00 C540.85,215.67 545.52,228.33 549.60,239.00 C553.68,249.67 559.93,265.67 563.60,275.00 C567.27,284.33 569.27,289.00 571.60,295.00 C573.93,301.00 575.60,305.33 577.60,311.00 C579.60,316.67 582.60,326.00 583.60,329.00 " fill="none" stroke="#555" stroke-width="0.55" stroke-dasharray="1.3 0.9"/>
<path d="M536.90,212.00 C538.65,216.67 543.32,229.33 547.40,240.00 C551.48,250.67 557.73,266.67 561.40,276.00 C565.07,285.33 567.07,290.00 569.40,296.00 C571.73,302.00 573.40,306.33 575.40,312.00 C577.40,317.67 580.40,327.00 581.40,330.00 " fill="none" stroke="#555" stroke-width="0.55" stroke-dasharray="1.3 0.9"/>
<path d="M583.30,328.00 C583.97,330.42 586.03,336.83 587.30,342.50 C588.57,348.17 590.17,355.75 590.90,362.00 C591.63,368.25 591.63,373.67 591.70,380.00 C591.77,386.33 591.87,393.33 591.30,400.00 C590.73,406.67 589.47,413.33 588.30,420.00 C587.13,426.67 585.55,433.67 584.30,440.00 C583.05,446.33 581.97,452.17 580.80,458.00 C579.63,463.83 578.88,467.17 577.30,475.00 C575.72,482.83 573.30,494.17 571.30,505.00 C569.30,515.83 567.30,528.83 565.30,540.00 C563.30,551.17 561.30,562.33 559.30,572.00 C557.30,581.67 554.30,593.67 553.30,598.00 " fill="none" stroke="#747474" stroke-width="3.0" stroke-dasharray="0.55 0.75"/>
<path d="M567.50,273.50 C568.42,276.25 571.33,284.75 573.00,290.00 C574.67,295.25 576.33,301.67 577.50,305.00 C578.67,308.33 579.58,309.17 580.00,310.00 " fill="none" stroke="#555" stroke-width="0.6" stroke-linejoin="round" stroke-linecap="round" />
<path d="M581.80,312.10 C584.97,310.81 593.93,307.42 600.80,304.36 C607.67,301.30 616.38,297.03 623.00,293.75 C629.62,290.47 635.50,287.47 640.50,284.70 C645.50,281.93 650.92,278.41 653.00,277.15 " fill="none" stroke="#333" stroke-width="0.6" stroke-dasharray="2.4 1.0"/>
<path d="M582.60,315.20 C585.77,313.95 594.78,310.67 601.60,307.72 C608.42,304.77 616.93,300.72 623.50,297.50 C630.07,294.28 636.00,291.18 641.00,288.40 C646.00,285.62 651.42,282.07 653.50,280.80 " fill="none" stroke="#333" stroke-width="0.6" stroke-dasharray="2.4 1.0"/>
<path d="M583.40,318.30 C586.57,317.10 595.63,313.92 602.40,311.08 C609.17,308.24 617.48,304.41 624.00,301.25 C630.52,298.09 636.50,294.90 641.50,292.10 C646.50,289.30 651.92,285.73 654.00,284.45 " fill="none" stroke="#333" stroke-width="0.6" stroke-dasharray="2.4 1.0"/>
<path d="M584.20,321.40 C587.37,320.24 596.48,317.17 603.20,314.44 C609.92,311.71 618.03,308.11 624.50,305.00 C630.97,301.89 637.00,298.62 642.00,295.80 C647.00,292.98 652.42,289.38 654.50,288.10 " fill="none" stroke="#333" stroke-width="0.6" stroke-dasharray="2.4 1.0"/>
<path d="M585.00,324.50 C588.17,323.38 597.33,320.43 604.00,317.80 C610.67,315.18 618.58,311.80 625.00,308.75 C631.42,305.70 637.50,302.33 642.50,299.50 C647.50,296.67 652.92,293.04 655.00,291.75 " fill="none" stroke="#333" stroke-width="0.6" stroke-dasharray="2.4 1.0"/>
<path d="M585.80,327.60 C588.97,326.53 598.18,323.68 604.80,321.16 C611.42,318.64 619.13,315.49 625.50,312.50 C631.87,309.51 638.00,306.05 643.00,303.20 C648.00,300.35 653.42,296.70 655.50,295.40 " fill="none" stroke="#333" stroke-width="0.6" stroke-dasharray="2.4 1.0"/>
<path d="M586.60,330.70 C589.77,329.67 599.03,326.93 605.60,324.52 C612.17,322.11 619.68,319.19 626.00,316.25 C632.32,313.31 638.50,309.77 643.50,306.90 C648.50,304.03 653.92,300.36 656.00,299.05 " fill="none" stroke="#333" stroke-width="0.6" stroke-dasharray="2.4 1.0"/>
<path d="M587.40,333.80 C590.57,332.81 599.88,330.18 606.40,327.88 C612.92,325.58 620.23,322.88 626.50,320.00 C632.77,317.12 639.00,313.48 644.00,310.60 C649.00,307.72 654.42,304.02 656.50,302.70 " fill="none" stroke="#333" stroke-width="0.6" stroke-dasharray="2.4 1.0"/>
<path d="M588.20,336.90 C591.37,335.96 600.73,333.43 607.20,331.24 C613.67,329.05 620.78,326.57 627.00,323.75 C633.22,320.93 639.50,317.20 644.50,314.30 C649.50,311.40 654.92,307.68 657.00,306.35 " fill="none" stroke="#333" stroke-width="0.6" stroke-dasharray="2.4 1.0"/>
<path d="M580.40,306.40 C583.57,305.07 592.48,301.57 599.40,298.40 C606.32,295.23 615.23,290.73 621.90,287.40 C628.57,284.07 634.40,281.15 639.40,278.40 C644.40,275.65 649.82,272.15 651.90,270.90 " fill="none" stroke="#555" stroke-width="0.55" stroke-dasharray="1.3 0.9"/>
<path d="M580.00,304.40 C583.17,303.07 592.08,299.57 599.00,296.40 C605.92,293.23 614.83,288.73 621.50,285.40 C628.17,282.07 634.00,279.15 639.00,276.40 C644.00,273.65 649.42,270.15 651.50,268.90 " fill="none" stroke="#555" stroke-width="0.55" stroke-dasharray="1.3 0.9"/>
<path d="M581.00,309.00 C584.17,307.67 593.08,304.17 600.00,301.00 C606.92,297.83 615.83,293.33 622.50,290.00 C629.17,286.67 635.00,283.75 640.00,281.00 C645.00,278.25 650.42,274.75 652.50,273.50 " fill="none" stroke="#2a2a2a" stroke-width="1.5" stroke-linejoin="round" stroke-linecap="round" />
<path d="M589.00,340.00 C592.17,339.10 601.58,336.68 608.00,334.60 C614.42,332.52 621.33,330.27 627.50,327.50 C633.67,324.73 640.00,320.92 645.00,318.00 C650.00,315.08 655.42,311.33 657.50,310.00 " fill="none" stroke="#2a2a2a" stroke-width="1.5" stroke-linejoin="round" stroke-linecap="round" />
<path d="M590.60,346.50 C593.83,345.42 603.43,342.33 610.00,340.00 C616.57,337.67 623.83,335.23 630.00,332.50 C636.17,329.77 642.17,326.35 647.00,323.60 C651.83,320.85 657.00,317.27 659.00,316.00 " fill="none" stroke="#2a2a2a" stroke-width="1.3" stroke-linejoin="round" stroke-linecap="round" />
<path d="M580.60,310.00 L579.43,313.14 L582.10,315.17 L580.93,318.31 L583.60,320.33 L582.43,323.47 L585.10,325.50 L583.93,328.64 L586.60,330.67 L585.43,333.81 L588.10,335.83 L586.93,338.97 L589.60,341.00 " fill="none" stroke="#2a2a2a" stroke-width="0.9" stroke-linejoin="round" stroke-linecap="round" />
<path d="M594.6,384.2 L612,380.8 L620.6,379.6 L612,382 L594.8,386 Z" fill="#333"/>
<path d="M596.4,387.4 L612,384" fill="none" stroke="#555" stroke-width="1.6" stroke-dasharray="0.6 0.7"/>
<path d="M577.50,424.00 C578.42,422.33 580.50,417.58 583.00,414.00 C585.50,410.42 590.92,404.42 592.50,402.50 " fill="none" stroke="#444" stroke-width="0.6" stroke-linejoin="round" stroke-linecap="round" />
<path d="M584.00,467.50 C585.33,469.58 588.50,475.75 592.00,480.00 C595.50,484.25 600.33,489.50 605.00,493.00 C609.67,496.50 615.08,498.93 620.00,501.00 C624.92,503.07 632.08,504.67 634.50,505.40 " fill="none" stroke="#2a2a2a" stroke-width="1.1" stroke-linejoin="round" stroke-linecap="round" />
<path d="M586.40,466.00 C587.67,468.00 590.67,473.90 594.00,478.00 C597.33,482.10 601.90,487.17 606.40,490.60 C610.90,494.03 616.23,496.53 621.00,498.60 C625.77,500.67 632.67,502.27 635.00,503.00 " fill="none" stroke="#686868" stroke-width="2.6" stroke-dasharray="0.6 0.7"/>
<path d="M593.00,424.60 C594.83,425.80 600.50,429.83 604.00,431.80 C607.50,433.77 612.33,435.63 614.00,436.40 " fill="none" stroke="#686868" stroke-width="2.2" stroke-dasharray="0.6 0.7"/>
<path d="M591.30,425.80 C593.25,427.07 598.95,431.27 603.00,433.40 C607.05,435.53 613.50,437.73 615.60,438.60 " fill="none" stroke="#2a2a2a" stroke-width="1.0" stroke-linejoin="round" stroke-linecap="round" />
<path d="M538.5,250 L566.5,277" fill="none" stroke="#7a7a7a" stroke-width="2.4" stroke-dasharray="0.6 0.7"/>
<path d="M542.3,209.4 Q556,240 568,274 L530.6,235" fill="none" stroke="#e9564c" stroke-width="1.15" stroke-linejoin="round"/>
<path d="M541,211 C536,219 532.4,227 530.6,235" fill="none" stroke="#e9564c" stroke-width="0.9"/>
<path d="M542.5,208.8 C536,205 529,204.2 523,205.8 C516,207.8 513,213 512.8,222 C512.8,240 517,262 523,280.5 C524.4,264 526.6,250 530.4,235.5" fill="none" stroke="#e9564c" stroke-width="1.1" stroke-dasharray="4.6 1.8"/>
<path d="M468.4,110 C474,110.6 478,113 480.6,118 C485,128 487.4,142 487.6,156 C487.6,172 482,190 470,206 C460,219 448,228 437.5,231 C431,230 424.5,224 420.5,217.5" fill="none" stroke="#e9564c" stroke-width="1.1" stroke-dasharray="4.6 1.8"/>
<path d="M469.6,146.5 L487.4,160.5" stroke="#777" stroke-width="0.6" fill="none"/>
<clipPath id="hipclip"><path d="M416.8,87.3 C419.60,87.35 428.18,86.98 433.60,87.60 C439.02,88.22 445.00,89.70 449.30,91.00 C453.60,92.30 456.88,93.82 459.40,95.40 C461.92,96.98 463.08,97.90 464.40,100.50 C465.72,103.10 466.47,106.08 467.30,111.00 C468.13,115.92 468.92,124.25 469.40,130.00 C469.88,135.75 470.07,142.92 470.20,145.50 C469.50,147.25 468.03,151.75 466.00,156.00 C463.97,160.25 461.08,165.67 458.00,171.00 C454.92,176.33 451.17,183.00 447.50,188.00 C443.83,193.00 439.58,197.42 436.00,201.00 C432.42,204.58 428.60,207.43 426.00,209.50 C423.40,211.57 421.33,212.75 420.40,213.40 C419.43,213.40 416.33,213.88 414.60,213.40 C412.87,212.92 411.85,212.90 410.00,210.50 C408.15,208.10 405.70,203.58 403.50,199.00 C401.30,194.42 398.28,188.67 396.80,183.00 C395.32,177.33 394.93,172.08 394.60,165.00 C394.27,157.92 394.33,147.67 394.80,140.50 C395.27,133.33 395.97,127.83 397.40,122.00 C398.83,116.17 401.47,110.08 403.40,105.50 C405.33,100.92 406.77,97.53 409.00,94.50 C411.23,91.47 415.50,88.50 416.80,87.30 Z" transform="translate(432.5 150) scale(0.885 0.93) translate(-432.5 -150)"/></clipPath>
<path d="M416.8,87.3 C419.60,87.35 428.18,86.98 433.60,87.60 C439.02,88.22 445.00,89.70 449.30,91.00 C453.60,92.30 456.88,93.82 459.40,95.40 C461.92,96.98 463.08,97.90 464.40,100.50 C465.72,103.10 466.47,106.08 467.30,111.00 C468.13,115.92 468.92,124.25 469.40,130.00 C469.88,135.75 470.07,142.92 470.20,145.50 C469.50,147.25 468.03,151.75 466.00,156.00 C463.97,160.25 461.08,165.67 458.00,171.00 C454.92,176.33 451.17,183.00 447.50,188.00 C443.83,193.00 439.58,197.42 436.00,201.00 C432.42,204.58 428.60,207.43 426.00,209.50 C423.40,211.57 421.33,212.75 420.40,213.40 C419.43,213.40 416.33,213.88 414.60,213.40 C412.87,212.92 411.85,212.90 410.00,210.50 C408.15,208.10 405.70,203.58 403.50,199.00 C401.30,194.42 398.28,188.67 396.80,183.00 C395.32,177.33 394.93,172.08 394.60,165.00 C394.27,157.92 394.33,147.67 394.80,140.50 C395.27,133.33 395.97,127.83 397.40,122.00 C398.83,116.17 401.47,110.08 403.40,105.50 C405.33,100.92 406.77,97.53 409.00,94.50 C411.23,91.47 415.50,88.50 416.80,87.30 Z" fill="#fcfcfc"/>
<g clip-path="url(#hipclip)"><g transform="translate(417.0 88.0) rotate(14.7)" fill="none"><path d="M44.4,-18.3l3.2,-1.8l3.2,1.8v3.7M50.7,-18.3l3.2,-1.8l3.2,1.8v3.7M28.5,-12.8l3.2,-1.8l3.2,1.8v3.7M34.9,-12.8l3.2,-1.8l3.2,1.8v3.7M41.2,-12.8l3.2,-1.8l3.2,1.8v3.7M47.5,-12.8l3.2,-1.8l3.2,1.8v3.7M6.3,-7.3l3.2,-1.8l3.2,1.8v3.7M12.7,-7.3l3.2,-1.8l3.2,1.8v3.7M19.0,-7.3l3.2,-1.8l3.2,1.8v3.7M25.4,-7.3l3.2,-1.8l3.2,1.8v3.7M31.7,-7.3l3.2,-1.8l3.2,1.8v3.7M38.0,-7.3l3.2,-1.8l3.2,1.8v3.7M44.4,-7.3l3.2,-1.8l3.2,1.8v3.7M50.7,-7.3l3.2,-1.8l3.2,1.8v3.7M-15.8,-1.8l3.2,-1.8l3.2,1.8v3.7M-9.5,-1.8l3.2,-1.8l3.2,1.8v3.7M-3.2,-1.8l3.2,-1.8l3.2,1.8v3.7M3.2,-1.8l3.2,-1.8l3.2,1.8v3.7M9.5,-1.8l3.2,-1.8l3.2,1.8v3.7M15.8,-1.8l3.2,-1.8l3.2,1.8v3.7M22.2,-1.8l3.2,-1.8l3.2,1.8v3.7M28.5,-1.8l3.2,-1.8l3.2,1.8v3.7M34.9,-1.8l3.2,-1.8l3.2,1.8v3.7M41.2,-1.8l3.2,-1.8l3.2,1.8v3.7M47.5,-1.8l3.2,-1.8l3.2,1.8v3.7M53.9,-1.8l3.2,-1.8l3.2,1.8v3.7M-25.4,3.7l3.2,-1.8l3.2,1.8v3.7M-19.0,3.7l3.2,-1.8l3.2,1.8v3.7M-12.7,3.7l3.2,-1.8l3.2,1.8v3.7M-6.3,3.7l3.2,-1.8l3.2,1.8v3.7M0.0,3.7l3.2,-1.8l3.2,1.8v3.7M6.3,3.7l3.2,-1.8l3.2,1.8v3.7M12.7,3.7l3.2,-1.8l3.2,1.8v3.7M19.0,3.7l3.2,-1.8l3.2,1.8v3.7M25.4,3.7l3.2,-1.8l3.2,1.8v3.7M31.7,3.7l3.2,-1.8l3.2,1.8v3.7M38.0,3.7l3.2,-1.8l3.2,1.8v3.7M44.4,3.7l3.2,-1.8l3.2,1.8v3.7M50.7,3.7l3.2,-1.8l3.2,1.8v3.7M57.1,3.7l3.2,-1.8l3.2,1.8v3.7M-22.2,9.2l3.2,-1.8l3.2,1.8v3.7M-15.8,9.2l3.2,-1.8l3.2,1.8v3.7M-9.5,9.2l3.2,-1.8l3.2,1.8v3.7M-3.2,9.2l3.2,-1.8l3.2,1.8v3.7M3.2,9.2l3.2,-1.8l3.2,1.8v3.7M9.5,9.2l3.2,-1.8l3.2,1.8v3.7M15.8,9.2l3.2,-1.8l3.2,1.8v3.7M22.2,9.2l3.2,-1.8l3.2,1.8v3.7M28.5,9.2l3.2,-1.8l3.2,1.8v3.7M34.9,9.2l3.2,-1.8l3.2,1.8v3.7M41.2,9.2l3.2,-1.8l3.2,1.8v3.7M47.5,9.2l3.2,-1.8l3.2,1.8v3.7M53.9,9.2l3.2,-1.8l3.2,1.8v3.7M-19.0,14.6l3.2,-1.8l3.2,1.8v3.7M-12.7,14.6l3.2,-1.8l3.2,1.8v3.7M-6.3,14.6l3.2,-1.8l3.2,1.8v3.7M0.0,14.6l3.2,-1.8l3.2,1.8v3.7M6.3,14.6l3.2,-1.8l3.2,1.8v3.7M12.7,14.6l3.2,-1.8l3.2,1.8v3.7M19.0,14.6l3.2,-1.8l3.2,1.8v3.7M25.4,14.6l3.2,-1.8l3.2,1.8v3.7M31.7,14.6l3.2,-1.8l3.2,1.8v3.7M38.0,14.6l3.2,-1.8l3.2,1.8v3.7M44.4,14.6l3.2,-1.8l3.2,1.8v3.7M50.7,14.6l3.2,-1.8l3.2,1.8v3.7M57.1,14.6l3.2,-1.8l3.2,1.8v3.7M-22.2,20.1l3.2,-1.8l3.2,1.8v3.7M-15.8,20.1l3.2,-1.8l3.2,1.8v3.7M-9.5,20.1l3.2,-1.8l3.2,1.8v3.7M-3.2,20.1l3.2,-1.8l3.2,1.8v3.7M3.2,20.1l3.2,-1.8l3.2,1.8v3.7M9.5,20.1l3.2,-1.8l3.2,1.8v3.7M15.8,20.1l3.2,-1.8l3.2,1.8v3.7M22.2,20.1l3.2,-1.8l3.2,1.8v3.7M28.5,20.1l3.2,-1.8l3.2,1.8v3.7M34.9,20.1l3.2,-1.8l3.2,1.8v3.7M41.2,20.1l3.2,-1.8l3.2,1.8v3.7M47.5,20.1l3.2,-1.8l3.2,1.8v3.7M53.9,20.1l3.2,-1.8l3.2,1.8v3.7M60.2,20.1l3.2,-1.8l3.2,1.8v3.7M-19.0,25.6l3.2,-1.8l3.2,1.8v3.7M-12.7,25.6l3.2,-1.8l3.2,1.8v3.7M-6.3,25.6l3.2,-1.8l3.2,1.8v3.7M0.0,25.6l3.2,-1.8l3.2,1.8v3.7M6.3,25.6l3.2,-1.8l3.2,1.8v3.7M12.7,25.6l3.2,-1.8l3.2,1.8v3.7M19.0,25.6l3.2,-1.8l3.2,1.8v3.7M25.4,25.6l3.2,-1.8l3.2,1.8v3.7M31.7,25.6l3.2,-1.8l3.2,1.8v3.7M38.0,25.6l3.2,-1.8l3.2,1.8v3.7M44.4,25.6l3.2,-1.8l3.2,1.8v3.7M50.7,25.6l3.2,-1.8l3.2,1.8v3.7M57.1,25.6l3.2,-1.8l3.2,1.8v3.7M-15.8,31.1l3.2,-1.8l3.2,1.8v3.7M-9.5,31.1l3.2,-1.8l3.2,1.8v3.7M-3.2,31.1l3.2,-1.8l3.2,1.8v3.7M3.2,31.1l3.2,-1.8l3.2,1.8v3.7M9.5,31.1l3.2,-1.8l3.2,1.8v3.7M15.8,31.1l3.2,-1.8l3.2,1.8v3.7M22.2,31.1l3.2,-1.8l3.2,1.8v3.7M28.5,31.1l3.2,-1.8l3.2,1.8v3.7M34.9,31.1l3.2,-1.8l3.2,1.8v3.7M41.2,31.1l3.2,-1.8l3.2,1.8v3.7M47.5,31.1l3.2,-1.8l3.2,1.8v3.7M53.9,31.1l3.2,-1.8l3.2,1.8v3.7M60.2,31.1l3.2,-1.8l3.2,1.8v3.7M-12.7,36.6l3.2,-1.8l3.2,1.8v3.7M-6.3,36.6l3.2,-1.8l3.2,1.8v3.7M0.0,36.6l3.2,-1.8l3.2,1.8v3.7M6.3,36.6l3.2,-1.8l3.2,1.8v3.7M12.7,36.6l3.2,-1.8l3.2,1.8v3.7M19.0,36.6l3.2,-1.8l3.2,1.8v3.7M25.4,36.6l3.2,-1.8l3.2,1.8v3.7M31.7,36.6l3.2,-1.8l3.2,1.8v3.7M38.0,36.6l3.2,-1.8l3.2,1.8v3.7M44.4,36.6l3.2,-1.8l3.2,1.8v3.7M50.7,36.6l3.2,-1.8l3.2,1.8v3.7M57.1,36.6l3.2,-1.8l3.2,1.8v3.7M63.4,36.6l3.2,-1.8l3.2,1.8v3.7M-15.8,42.1l3.2,-1.8l3.2,1.8v3.7M-9.5,42.1l3.2,-1.8l3.2,1.8v3.7M-3.2,42.1l3.2,-1.8l3.2,1.8v3.7M3.2,42.1l3.2,-1.8l3.2,1.8v3.7M9.5,42.1l3.2,-1.8l3.2,1.8v3.7M15.8,42.1l3.2,-1.8l3.2,1.8v3.7M22.2,42.1l3.2,-1.8l3.2,1.8v3.7M28.5,42.1l3.2,-1.8l3.2,1.8v3.7M34.9,42.1l3.2,-1.8l3.2,1.8v3.7M41.2,42.1l3.2,-1.8l3.2,1.8v3.7M47.5,42.1l3.2,-1.8l3.2,1.8v3.7M53.9,42.1l3.2,-1.8l3.2,1.8v3.7M60.2,42.1l3.2,-1.8l3.2,1.8v3.7M66.6,42.1l3.2,-1.8l3.2,1.8v3.7M-12.7,47.6l3.2,-1.8l3.2,1.8v3.7M-6.3,47.6l3.2,-1.8l3.2,1.8v3.7M0.0,47.6l3.2,-1.8l3.2,1.8v3.7M6.3,47.6l3.2,-1.8l3.2,1.8v3.7M12.7,47.6l3.2,-1.8l3.2,1.8v3.7M19.0,47.6l3.2,-1.8l3.2,1.8v3.7M25.4,47.6l3.2,-1.8l3.2,1.8v3.7M31.7,47.6l3.2,-1.8l3.2,1.8v3.7M38.0,47.6l3.2,-1.8l3.2,1.8v3.7M44.4,47.6l3.2,-1.8l3.2,1.8v3.7M50.7,47.6l3.2,-1.8l3.2,1.8v3.7M57.1,47.6l3.2,-1.8l3.2,1.8v3.7M63.4,47.6l3.2,-1.8l3.2,1.8v3.7M-9.5,53.1l3.2,-1.8l3.2,1.8v3.7M-3.2,53.1l3.2,-1.8l3.2,1.8v3.7M3.2,53.1l3.2,-1.8l3.2,1.8v3.7M9.5,53.1l3.2,-1.8l3.2,1.8v3.7M15.8,53.1l3.2,-1.8l3.2,1.8v3.7M22.2,53.1l3.2,-1.8l3.2,1.8v3.7M28.5,53.1l3.2,-1.8l3.2,1.8v3.7M34.9,53.1l3.2,-1.8l3.2,1.8v3.7M41.2,53.1l3.2,-1.8l3.2,1.8v3.7M47.5,53.1l3.2,-1.8l3.2,1.8v3.7M53.9,53.1l3.2,-1.8l3.2,1.8v3.7M60.2,53.1l3.2,-1.8l3.2,1.8v3.7M66.6,53.1l3.2,-1.8l3.2,1.8v3.7M-12.7,58.6l3.2,-1.8l3.2,1.8v3.7M-6.3,58.6l3.2,-1.8l3.2,1.8v3.7M0.0,58.6l3.2,-1.8l3.2,1.8v3.7M6.3,58.6l3.2,-1.8l3.2,1.8v3.7M12.7,58.6l3.2,-1.8l3.2,1.8v3.7M19.0,58.6l3.2,-1.8l3.2,1.8v3.7M25.4,58.6l3.2,-1.8l3.2,1.8v3.7M31.7,58.6l3.2,-1.8l3.2,1.8v3.7M38.0,58.6l3.2,-1.8l3.2,1.8v3.7M44.4,58.6l3.2,-1.8l3.2,1.8v3.7M50.7,58.6l3.2,-1.8l3.2,1.8v3.7M57.1,58.6l3.2,-1.8l3.2,1.8v3.7M63.4,58.6l3.2,-1.8l3.2,1.8v3.7M69.7,58.6l3.2,-1.8l3.2,1.8v3.7M-9.5,64.0l3.2,-1.8l3.2,1.8v3.7M-3.2,64.0l3.2,-1.8l3.2,1.8v3.7M3.2,64.0l3.2,-1.8l3.2,1.8v3.7M9.5,64.0l3.2,-1.8l3.2,1.8v3.7M15.8,64.0l3.2,-1.8l3.2,1.8v3.7M22.2,64.0l3.2,-1.8l3.2,1.8v3.7M28.5,64.0l3.2,-1.8l3.2,1.8v3.7M34.9,64.0l3.2,-1.8l3.2,1.8v3.7M41.2,64.0l3.2,-1.8l3.2,1.8v3.7M47.5,64.0l3.2,-1.8l3.2,1.8v3.7M53.9,64.0l3.2,-1.8l3.2,1.8v3.7M60.2,64.0l3.2,-1.8l3.2,1.8v3.7M66.6,64.0l3.2,-1.8l3.2,1.8v3.7M72.9,64.0l3.2,-1.8l3.2,1.8v3.7M-6.3,69.5l3.2,-1.8l3.2,1.8v3.7M0.0,69.5l3.2,-1.8l3.2,1.8v3.7M6.3,69.5l3.2,-1.8l3.2,1.8v3.7M12.7,69.5l3.2,-1.8l3.2,1.8v3.7M19.0,69.5l3.2,-1.8l3.2,1.8v3.7M25.4,69.5l3.2,-1.8l3.2,1.8v3.7M31.7,69.5l3.2,-1.8l3.2,1.8v3.7M38.0,69.5l3.2,-1.8l3.2,1.8v3.7M44.4,69.5l3.2,-1.8l3.2,1.8v3.7M50.7,69.5l3.2,-1.8l3.2,1.8v3.7M57.1,69.5l3.2,-1.8l3.2,1.8v3.7M63.4,69.5l3.2,-1.8l3.2,1.8v3.7M69.7,69.5l3.2,-1.8l3.2,1.8v3.7M-3.2,75.0l3.2,-1.8l3.2,1.8v3.7M3.2,75.0l3.2,-1.8l3.2,1.8v3.7M9.5,75.0l3.2,-1.8l3.2,1.8v3.7M15.8,75.0l3.2,-1.8l3.2,1.8v3.7M22.2,75.0l3.2,-1.8l3.2,1.8v3.7M28.5,75.0l3.2,-1.8l3.2,1.8v3.7M34.9,75.0l3.2,-1.8l3.2,1.8v3.7M41.2,75.0l3.2,-1.8l3.2,1.8v3.7M47.5,75.0l3.2,-1.8l3.2,1.8v3.7M53.9,75.0l3.2,-1.8l3.2,1.8v3.7M60.2,75.0l3.2,-1.8l3.2,1.8v3.7M66.6,75.0l3.2,-1.8l3.2,1.8v3.7M72.9,75.0l3.2,-1.8l3.2,1.8v3.7M-6.3,80.5l3.2,-1.8l3.2,1.8v3.7M0.0,80.5l3.2,-1.8l3.2,1.8v3.7M6.3,80.5l3.2,-1.8l3.2,1.8v3.7M12.7,80.5l3.2,-1.8l3.2,1.8v3.7M19.0,80.5l3.2,-1.8l3.2,1.8v3.7M25.4,80.5l3.2,-1.8l3.2,1.8v3.7M31.7,80.5l3.2,-1.8l3.2,1.8v3.7M38.0,80.5l3.2,-1.8l3.2,1.8v3.7M44.4,80.5l3.2,-1.8l3.2,1.8v3.7M50.7,80.5l3.2,-1.8l3.2,1.8v3.7M57.1,80.5l3.2,-1.8l3.2,1.8v3.7M63.4,80.5l3.2,-1.8l3.2,1.8v3.7M69.7,80.5l3.2,-1.8l3.2,1.8v3.7M76.1,80.5l3.2,-1.8l3.2,1.8v3.7M-3.2,86.0l3.2,-1.8l3.2,1.8v3.7M3.2,86.0l3.2,-1.8l3.2,1.8v3.7M9.5,86.0l3.2,-1.8l3.2,1.8v3.7M15.8,86.0l3.2,-1.8l3.2,1.8v3.7M22.2,86.0l3.2,-1.8l3.2,1.8v3.7M28.5,86.0l3.2,-1.8l3.2,1.8v3.7M34.9,86.0l3.2,-1.8l3.2,1.8v3.7M41.2,86.0l3.2,-1.8l3.2,1.8v3.7M47.5,86.0l3.2,-1.8l3.2,1.8v3.7M53.9,86.0l3.2,-1.8l3.2,1.8v3.7M60.2,86.0l3.2,-1.8l3.2,1.8v3.7M66.6,86.0l3.2,-1.8l3.2,1.8v3.7M72.9,86.0l3.2,-1.8l3.2,1.8v3.7M0.0,91.5l3.2,-1.8l3.2,1.8v3.7M6.3,91.5l3.2,-1.8l3.2,1.8v3.7M12.7,91.5l3.2,-1.8l3.2,1.8v3.7M19.0,91.5l3.2,-1.8l3.2,1.8v3.7M25.4,91.5l3.2,-1.8l3.2,1.8v3.7M31.7,91.5l3.2,-1.8l3.2,1.8v3.7M38.0,91.5l3.2,-1.8l3.2,1.8v3.7M44.4,91.5l3.2,-1.8l3.2,1.8v3.7M50.7,91.5l3.2,-1.8l3.2,1.8v3.7M57.1,91.5l3.2,-1.8l3.2,1.8v3.7M63.4,91.5l3.2,-1.8l3.2,1.8v3.7M69.7,91.5l3.2,-1.8l3.2,1.8v3.7M76.1,91.5l3.2,-1.8l3.2,1.8v3.7M3.2,97.0l3.2,-1.8l3.2,1.8v3.7M9.5,97.0l3.2,-1.8l3.2,1.8v3.7M15.8,97.0l3.2,-1.8l3.2,1.8v3.7M22.2,97.0l3.2,-1.8l3.2,1.8v3.7M28.5,97.0l3.2,-1.8l3.2,1.8v3.7M34.9,97.0l3.2,-1.8l3.2,1.8v3.7M41.2,97.0l3.2,-1.8l3.2,1.8v3.7M47.5,97.0l3.2,-1.8l3.2,1.8v3.7M53.9,97.0l3.2,-1.8l3.2,1.8v3.7M60.2,97.0l3.2,-1.8l3.2,1.8v3.7M66.6,97.0l3.2,-1.8l3.2,1.8v3.7M72.9,97.0l3.2,-1.8l3.2,1.8v3.7M79.2,97.0l3.2,-1.8l3.2,1.8v3.7M0.0,102.5l3.2,-1.8l3.2,1.8v3.7M6.3,102.5l3.2,-1.8l3.2,1.8v3.7M12.7,102.5l3.2,-1.8l3.2,1.8v3.7M19.0,102.5l3.2,-1.8l3.2,1.8v3.7M25.4,102.5l3.2,-1.8l3.2,1.8v3.7M31.7,102.5l3.2,-1.8l3.2,1.8v3.7M38.0,102.5l3.2,-1.8l3.2,1.8v3.7M44.4,102.5l3.2,-1.8l3.2,1.8v3.7M50.7,102.5l3.2,-1.8l3.2,1.8v3.7M57.1,102.5l3.2,-1.8l3.2,1.8v3.7M63.4,102.5l3.2,-1.8l3.2,1.8v3.7M69.7,102.5l3.2,-1.8l3.2,1.8v3.7M76.1,102.5l3.2,-1.8l3.2,1.8v3.7M82.4,102.5l3.2,-1.8l3.2,1.8v3.7M3.2,108.0l3.2,-1.8l3.2,1.8v3.7M9.5,108.0l3.2,-1.8l3.2,1.8v3.7M15.8,108.0l3.2,-1.8l3.2,1.8v3.7M22.2,108.0l3.2,-1.8l3.2,1.8v3.7M28.5,108.0l3.2,-1.8l3.2,1.8v3.7M34.9,108.0l3.2,-1.8l3.2,1.8v3.7M41.2,108.0l3.2,-1.8l3.2,1.8v3.7M47.5,108.0l3.2,-1.8l3.2,1.8v3.7M53.9,108.0l3.2,-1.8l3.2,1.8v3.7M60.2,108.0l3.2,-1.8l3.2,1.8v3.7M66.6,108.0l3.2,-1.8l3.2,1.8v3.7M72.9,108.0l3.2,-1.8l3.2,1.8v3.7M79.2,108.0l3.2,-1.8l3.2,1.8v3.7M6.3,113.5l3.2,-1.8l3.2,1.8v3.7M12.7,113.5l3.2,-1.8l3.2,1.8v3.7M19.0,113.5l3.2,-1.8l3.2,1.8v3.7M25.4,113.5l3.2,-1.8l3.2,1.8v3.7M31.7,113.5l3.2,-1.8l3.2,1.8v3.7M38.0,113.5l3.2,-1.8l3.2,1.8v3.7M44.4,113.5l3.2,-1.8l3.2,1.8v3.7M50.7,113.5l3.2,-1.8l3.2,1.8v3.7M57.1,113.5l3.2,-1.8l3.2,1.8v3.7M63.4,113.5l3.2,-1.8l3.2,1.8v3.7M3.2,119.0l3.2,-1.8l3.2,1.8v3.7M9.5,119.0l3.2,-1.8l3.2,1.8v3.7M15.8,119.0l3.2,-1.8l3.2,1.8v3.7M22.2,119.0l3.2,-1.8l3.2,1.8v3.7M28.5,119.0l3.2,-1.8l3.2,1.8v3.7M34.9,119.0l3.2,-1.8l3.2,1.8v3.7M41.2,119.0l3.2,-1.8l3.2,1.8v3.7M47.5,119.0l3.2,-1.8l3.2,1.8v3.7M6.3,124.4l3.2,-1.8l3.2,1.8v3.7M12.7,124.4l3.2,-1.8l3.2,1.8v3.7M19.0,124.4l3.2,-1.8l3.2,1.8v3.7M25.4,124.4l3.2,-1.8l3.2,1.8v3.7" stroke="#8e8e8e" stroke-width="0.9"/><path d="M46.1,-16.0a1.5,1.5 0 0 1 2.8,0M52.5,-16.0a1.5,1.5 0 0 1 2.8,0M30.3,-10.5a1.5,1.5 0 0 1 2.8,0M36.6,-10.5a1.5,1.5 0 0 1 2.8,0M43.0,-10.5a1.5,1.5 0 0 1 2.8,0M49.3,-10.5a1.5,1.5 0 0 1 2.8,0M8.1,-5.0a1.5,1.5 0 0 1 2.8,0M14.4,-5.0a1.5,1.5 0 0 1 2.8,0M20.8,-5.0a1.5,1.5 0 0 1 2.8,0M27.1,-5.0a1.5,1.5 0 0 1 2.8,0M33.5,-5.0a1.5,1.5 0 0 1 2.8,0M39.8,-5.0a1.5,1.5 0 0 1 2.8,0M46.1,-5.0a1.5,1.5 0 0 1 2.8,0M52.5,-5.0a1.5,1.5 0 0 1 2.8,0M-14.1,0.5a1.5,1.5 0 0 1 2.8,0M-7.7,0.5a1.5,1.5 0 0 1 2.8,0M-1.4,0.5a1.5,1.5 0 0 1 2.8,0M4.9,0.5a1.5,1.5 0 0 1 2.8,0M11.3,0.5a1.5,1.5 0 0 1 2.8,0M17.6,0.5a1.5,1.5 0 0 1 2.8,0M24.0,0.5a1.5,1.5 0 0 1 2.8,0M30.3,0.5a1.5,1.5 0 0 1 2.8,0M36.6,0.5a1.5,1.5 0 0 1 2.8,0M43.0,0.5a1.5,1.5 0 0 1 2.8,0M49.3,0.5a1.5,1.5 0 0 1 2.8,0M55.7,0.5a1.5,1.5 0 0 1 2.8,0M-23.6,6.0a1.5,1.5 0 0 1 2.8,0M-17.2,6.0a1.5,1.5 0 0 1 2.8,0M-10.9,6.0a1.5,1.5 0 0 1 2.8,0M-4.6,6.0a1.5,1.5 0 0 1 2.8,0M1.8,6.0a1.5,1.5 0 0 1 2.8,0M8.1,6.0a1.5,1.5 0 0 1 2.8,0M14.4,6.0a1.5,1.5 0 0 1 2.8,0M20.8,6.0a1.5,1.5 0 0 1 2.8,0M27.1,6.0a1.5,1.5 0 0 1 2.8,0M33.5,6.0a1.5,1.5 0 0 1 2.8,0M39.8,6.0a1.5,1.5 0 0 1 2.8,0M46.1,6.0a1.5,1.5 0 0 1 2.8,0M52.5,6.0a1.5,1.5 0 0 1 2.8,0M58.8,6.0a1.5,1.5 0 0 1 2.8,0M-20.4,11.5a1.5,1.5 0 0 1 2.8,0M-14.1,11.5a1.5,1.5 0 0 1 2.8,0M-7.7,11.5a1.5,1.5 0 0 1 2.8,0M-1.4,11.5a1.5,1.5 0 0 1 2.8,0M4.9,11.5a1.5,1.5 0 0 1 2.8,0M11.3,11.5a1.5,1.5 0 0 1 2.8,0M17.6,11.5a1.5,1.5 0 0 1 2.8,0M24.0,11.5a1.5,1.5 0 0 1 2.8,0M30.3,11.5a1.5,1.5 0 0 1 2.8,0M36.6,11.5a1.5,1.5 0 0 1 2.8,0M43.0,11.5a1.5,1.5 0 0 1 2.8,0M49.3,11.5a1.5,1.5 0 0 1 2.8,0M55.7,11.5a1.5,1.5 0 0 1 2.8,0M-17.2,17.0a1.5,1.5 0 0 1 2.8,0M-10.9,17.0a1.5,1.5 0 0 1 2.8,0M-4.6,17.0a1.5,1.5 0 0 1 2.8,0M1.8,17.0a1.5,1.5 0 0 1 2.8,0M8.1,17.0a1.5,1.5 0 0 1 2.8,0M14.4,17.0a1.5,1.5 0 0 1 2.8,0M20.8,17.0a1.5,1.5 0 0 1 2.8,0M27.1,17.0a1.5,1.5 0 0 1 2.8,0M33.5,17.0a1.5,1.5 0 0 1 2.8,0M39.8,17.0a1.5,1.5 0 0 1 2.8,0M46.1,17.0a1.5,1.5 0 0 1 2.8,0M52.5,17.0a1.5,1.5 0 0 1 2.8,0M58.8,17.0a1.5,1.5 0 0 1 2.8,0M-20.4,22.5a1.5,1.5 0 0 1 2.8,0M-14.1,22.5a1.5,1.5 0 0 1 2.8,0M-7.7,22.5a1.5,1.5 0 0 1 2.8,0M-1.4,22.5a1.5,1.5 0 0 1 2.8,0M4.9,22.5a1.5,1.5 0 0 1 2.8,0M11.3,22.5a1.5,1.5 0 0 1 2.8,0M17.6,22.5a1.5,1.5 0 0 1 2.8,0M24.0,22.5a1.5,1.5 0 0 1 2.8,0M30.3,22.5a1.5,1.5 0 0 1 2.8,0M36.6,22.5a1.5,1.5 0 0 1 2.8,0M43.0,22.5a1.5,1.5 0 0 1 2.8,0M49.3,22.5a1.5,1.5 0 0 1 2.8,0M55.7,22.5a1.5,1.5 0 0 1 2.8,0M62.0,22.5a1.5,1.5 0 0 1 2.8,0M-17.2,28.0a1.5,1.5 0 0 1 2.8,0M-10.9,28.0a1.5,1.5 0 0 1 2.8,0M-4.6,28.0a1.5,1.5 0 0 1 2.8,0M1.8,28.0a1.5,1.5 0 0 1 2.8,0M8.1,28.0a1.5,1.5 0 0 1 2.8,0M14.4,28.0a1.5,1.5 0 0 1 2.8,0M20.8,28.0a1.5,1.5 0 0 1 2.8,0M27.1,28.0a1.5,1.5 0 0 1 2.8,0M33.5,28.0a1.5,1.5 0 0 1 2.8,0M39.8,28.0a1.5,1.5 0 0 1 2.8,0M46.1,28.0a1.5,1.5 0 0 1 2.8,0M52.5,28.0a1.5,1.5 0 0 1 2.8,0M58.8,28.0a1.5,1.5 0 0 1 2.8,0M-14.1,33.4a1.5,1.5 0 0 1 2.8,0M-7.7,33.4a1.5,1.5 0 0 1 2.8,0M-1.4,33.4a1.5,1.5 0 0 1 2.8,0M4.9,33.4a1.5,1.5 0 0 1 2.8,0M11.3,33.4a1.5,1.5 0 0 1 2.8,0M17.6,33.4a1.5,1.5 0 0 1 2.8,0M24.0,33.4a1.5,1.5 0 0 1 2.8,0M30.3,33.4a1.5,1.5 0 0 1 2.8,0M36.6,33.4a1.5,1.5 0 0 1 2.8,0M43.0,33.4a1.5,1.5 0 0 1 2.8,0M49.3,33.4a1.5,1.5 0 0 1 2.8,0M55.7,33.4a1.5,1.5 0 0 1 2.8,0M62.0,33.4a1.5,1.5 0 0 1 2.8,0M-10.9,38.9a1.5,1.5 0 0 1 2.8,0M-4.6,38.9a1.5,1.5 0 0 1 2.8,0M1.8,38.9a1.5,1.5 0 0 1 2.8,0M8.1,38.9a1.5,1.5 0 0 1 2.8,0M14.4,38.9a1.5,1.5 0 0 1 2.8,0M20.8,38.9a1.5,1.5 0 0 1 2.8,0M27.1,38.9a1.5,1.5 0 0 1 2.8,0M33.5,38.9a1.5,1.5 0 0 1 2.8,0M39.8,38.9a1.5,1.5 0 0 1 2.8,0M46.1,38.9a1.5,1.5 0 0 1 2.8,0M52.5,38.9a1.5,1.5 0 0 1 2.8,0M58.8,38.9a1.5,1.5 0 0 1 2.8,0M65.2,38.9a1.5,1.5 0 0 1 2.8,0M-14.1,44.4a1.5,1.5 0 0 1 2.8,0M-7.7,44.4a1.5,1.5 0 0 1 2.8,0M-1.4,44.4a1.5,1.5 0 0 1 2.8,0M4.9,44.4a1.5,1.5 0 0 1 2.8,0M11.3,44.4a1.5,1.5 0 0 1 2.8,0M17.6,44.4a1.5,1.5 0 0 1 2.8,0M24.0,44.4a1.5,1.5 0 0 1 2.8,0M30.3,44.4a1.5,1.5 0 0 1 2.8,0M36.6,44.4a1.5,1.5 0 0 1 2.8,0M43.0,44.4a1.5,1.5 0 0 1 2.8,0M49.3,44.4a1.5,1.5 0 0 1 2.8,0M55.7,44.4a1.5,1.5 0 0 1 2.8,0M62.0,44.4a1.5,1.5 0 0 1 2.8,0M68.3,44.4a1.5,1.5 0 0 1 2.8,0M-10.9,49.9a1.5,1.5 0 0 1 2.8,0M-4.6,49.9a1.5,1.5 0 0 1 2.8,0M1.8,49.9a1.5,1.5 0 0 1 2.8,0M8.1,49.9a1.5,1.5 0 0 1 2.8,0M14.4,49.9a1.5,1.5 0 0 1 2.8,0M20.8,49.9a1.5,1.5 0 0 1 2.8,0M27.1,49.9a1.5,1.5 0 0 1 2.8,0M33.5,49.9a1.5,1.5 0 0 1 2.8,0M39.8,49.9a1.5,1.5 0 0 1 2.8,0M46.1,49.9a1.5,1.5 0 0 1 2.8,0M52.5,49.9a1.5,1.5 0 0 1 2.8,0M58.8,49.9a1.5,1.5 0 0 1 2.8,0M65.2,49.9a1.5,1.5 0 0 1 2.8,0M-7.7,55.4a1.5,1.5 0 0 1 2.8,0M-1.4,55.4a1.5,1.5 0 0 1 2.8,0M4.9,55.4a1.5,1.5 0 0 1 2.8,0M11.3,55.4a1.5,1.5 0 0 1 2.8,0M17.6,55.4a1.5,1.5 0 0 1 2.8,0M24.0,55.4a1.5,1.5 0 0 1 2.8,0M30.3,55.4a1.5,1.5 0 0 1 2.8,0M36.6,55.4a1.5,1.5 0 0 1 2.8,0M43.0,55.4a1.5,1.5 0 0 1 2.8,0M49.3,55.4a1.5,1.5 0 0 1 2.8,0M55.7,55.4a1.5,1.5 0 0 1 2.8,0M62.0,55.4a1.5,1.5 0 0 1 2.8,0M68.3,55.4a1.5,1.5 0 0 1 2.8,0M-10.9,60.9a1.5,1.5 0 0 1 2.8,0M-4.6,60.9a1.5,1.5 0 0 1 2.8,0M1.8,60.9a1.5,1.5 0 0 1 2.8,0M8.1,60.9a1.5,1.5 0 0 1 2.8,0M14.4,60.9a1.5,1.5 0 0 1 2.8,0M20.8,60.9a1.5,1.5 0 0 1 2.8,0M27.1,60.9a1.5,1.5 0 0 1 2.8,0M33.5,60.9a1.5,1.5 0 0 1 2.8,0M39.8,60.9a1.5,1.5 0 0 1 2.8,0M46.1,60.9a1.5,1.5 0 0 1 2.8,0M52.5,60.9a1.5,1.5 0 0 1 2.8,0M58.8,60.9a1.5,1.5 0 0 1 2.8,0M65.2,60.9a1.5,1.5 0 0 1 2.8,0M71.5,60.9a1.5,1.5 0 0 1 2.8,0M-7.7,66.4a1.5,1.5 0 0 1 2.8,0M-1.4,66.4a1.5,1.5 0 0 1 2.8,0M4.9,66.4a1.5,1.5 0 0 1 2.8,0M11.3,66.4a1.5,1.5 0 0 1 2.8,0M17.6,66.4a1.5,1.5 0 0 1 2.8,0M24.0,66.4a1.5,1.5 0 0 1 2.8,0M30.3,66.4a1.5,1.5 0 0 1 2.8,0M36.6,66.4a1.5,1.5 0 0 1 2.8,0M43.0,66.4a1.5,1.5 0 0 1 2.8,0M49.3,66.4a1.5,1.5 0 0 1 2.8,0M55.7,66.4a1.5,1.5 0 0 1 2.8,0M62.0,66.4a1.5,1.5 0 0 1 2.8,0M68.3,66.4a1.5,1.5 0 0 1 2.8,0M74.7,66.4a1.5,1.5 0 0 1 2.8,0M-4.6,71.9a1.5,1.5 0 0 1 2.8,0M1.8,71.9a1.5,1.5 0 0 1 2.8,0M8.1,71.9a1.5,1.5 0 0 1 2.8,0M14.4,71.9a1.5,1.5 0 0 1 2.8,0M20.8,71.9a1.5,1.5 0 0 1 2.8,0M27.1,71.9a1.5,1.5 0 0 1 2.8,0M33.5,71.9a1.5,1.5 0 0 1 2.8,0M39.8,71.9a1.5,1.5 0 0 1 2.8,0M46.1,71.9a1.5,1.5 0 0 1 2.8,0M52.5,71.9a1.5,1.5 0 0 1 2.8,0M58.8,71.9a1.5,1.5 0 0 1 2.8,0M65.2,71.9a1.5,1.5 0 0 1 2.8,0M71.5,71.9a1.5,1.5 0 0 1 2.8,0M-1.4,77.4a1.5,1.5 0 0 1 2.8,0M4.9,77.4a1.5,1.5 0 0 1 2.8,0M11.3,77.4a1.5,1.5 0 0 1 2.8,0M17.6,77.4a1.5,1.5 0 0 1 2.8,0M24.0,77.4a1.5,1.5 0 0 1 2.8,0M30.3,77.4a1.5,1.5 0 0 1 2.8,0M36.6,77.4a1.5,1.5 0 0 1 2.8,0M43.0,77.4a1.5,1.5 0 0 1 2.8,0M49.3,77.4a1.5,1.5 0 0 1 2.8,0M55.7,77.4a1.5,1.5 0 0 1 2.8,0M62.0,77.4a1.5,1.5 0 0 1 2.8,0M68.3,77.4a1.5,1.5 0 0 1 2.8,0M74.7,77.4a1.5,1.5 0 0 1 2.8,0M-4.6,82.9a1.5,1.5 0 0 1 2.8,0M1.8,82.9a1.5,1.5 0 0 1 2.8,0M8.1,82.9a1.5,1.5 0 0 1 2.8,0M14.4,82.9a1.5,1.5 0 0 1 2.8,0M20.8,82.9a1.5,1.5 0 0 1 2.8,0M27.1,82.9a1.5,1.5 0 0 1 2.8,0M33.5,82.9a1.5,1.5 0 0 1 2.8,0M39.8,82.9a1.5,1.5 0 0 1 2.8,0M46.1,82.9a1.5,1.5 0 0 1 2.8,0M52.5,82.9a1.5,1.5 0 0 1 2.8,0M58.8,82.9a1.5,1.5 0 0 1 2.8,0M65.2,82.9a1.5,1.5 0 0 1 2.8,0M71.5,82.9a1.5,1.5 0 0 1 2.8,0M77.8,82.9a1.5,1.5 0 0 1 2.8,0M-1.4,88.3a1.5,1.5 0 0 1 2.8,0M4.9,88.3a1.5,1.5 0 0 1 2.8,0M11.3,88.3a1.5,1.5 0 0 1 2.8,0M17.6,88.3a1.5,1.5 0 0 1 2.8,0M24.0,88.3a1.5,1.5 0 0 1 2.8,0M30.3,88.3a1.5,1.5 0 0 1 2.8,0M36.6,88.3a1.5,1.5 0 0 1 2.8,0M43.0,88.3a1.5,1.5 0 0 1 2.8,0M49.3,88.3a1.5,1.5 0 0 1 2.8,0M55.7,88.3a1.5,1.5 0 0 1 2.8,0M62.0,88.3a1.5,1.5 0 0 1 2.8,0M68.3,88.3a1.5,1.5 0 0 1 2.8,0M74.7,88.3a1.5,1.5 0 0 1 2.8,0M1.8,93.8a1.5,1.5 0 0 1 2.8,0M8.1,93.8a1.5,1.5 0 0 1 2.8,0M14.4,93.8a1.5,1.5 0 0 1 2.8,0M20.8,93.8a1.5,1.5 0 0 1 2.8,0M27.1,93.8a1.5,1.5 0 0 1 2.8,0M33.5,93.8a1.5,1.5 0 0 1 2.8,0M39.8,93.8a1.5,1.5 0 0 1 2.8,0M46.1,93.8a1.5,1.5 0 0 1 2.8,0M52.5,93.8a1.5,1.5 0 0 1 2.8,0M58.8,93.8a1.5,1.5 0 0 1 2.8,0M65.2,93.8a1.5,1.5 0 0 1 2.8,0M71.5,93.8a1.5,1.5 0 0 1 2.8,0M77.8,93.8a1.5,1.5 0 0 1 2.8,0M4.9,99.3a1.5,1.5 0 0 1 2.8,0M11.3,99.3a1.5,1.5 0 0 1 2.8,0M17.6,99.3a1.5,1.5 0 0 1 2.8,0M24.0,99.3a1.5,1.5 0 0 1 2.8,0M30.3,99.3a1.5,1.5 0 0 1 2.8,0M36.6,99.3a1.5,1.5 0 0 1 2.8,0M43.0,99.3a1.5,1.5 0 0 1 2.8,0M49.3,99.3a1.5,1.5 0 0 1 2.8,0M55.7,99.3a1.5,1.5 0 0 1 2.8,0M62.0,99.3a1.5,1.5 0 0 1 2.8,0M68.3,99.3a1.5,1.5 0 0 1 2.8,0M74.7,99.3a1.5,1.5 0 0 1 2.8,0M81.0,99.3a1.5,1.5 0 0 1 2.8,0M1.8,104.8a1.5,1.5 0 0 1 2.8,0M8.1,104.8a1.5,1.5 0 0 1 2.8,0M14.4,104.8a1.5,1.5 0 0 1 2.8,0M20.8,104.8a1.5,1.5 0 0 1 2.8,0M27.1,104.8a1.5,1.5 0 0 1 2.8,0M33.5,104.8a1.5,1.5 0 0 1 2.8,0M39.8,104.8a1.5,1.5 0 0 1 2.8,0M46.1,104.8a1.5,1.5 0 0 1 2.8,0M52.5,104.8a1.5,1.5 0 0 1 2.8,0M58.8,104.8a1.5,1.5 0 0 1 2.8,0M65.2,104.8a1.5,1.5 0 0 1 2.8,0M71.5,104.8a1.5,1.5 0 0 1 2.8,0M77.8,104.8a1.5,1.5 0 0 1 2.8,0M84.2,104.8a1.5,1.5 0 0 1 2.8,0M4.9,110.3a1.5,1.5 0 0 1 2.8,0M11.3,110.3a1.5,1.5 0 0 1 2.8,0M17.6,110.3a1.5,1.5 0 0 1 2.8,0M24.0,110.3a1.5,1.5 0 0 1 2.8,0M30.3,110.3a1.5,1.5 0 0 1 2.8,0M36.6,110.3a1.5,1.5 0 0 1 2.8,0M43.0,110.3a1.5,1.5 0 0 1 2.8,0M49.3,110.3a1.5,1.5 0 0 1 2.8,0M55.7,110.3a1.5,1.5 0 0 1 2.8,0M62.0,110.3a1.5,1.5 0 0 1 2.8,0M68.3,110.3a1.5,1.5 0 0 1 2.8,0M74.7,110.3a1.5,1.5 0 0 1 2.8,0M81.0,110.3a1.5,1.5 0 0 1 2.8,0M8.1,115.8a1.5,1.5 0 0 1 2.8,0M14.4,115.8a1.5,1.5 0 0 1 2.8,0M20.8,115.8a1.5,1.5 0 0 1 2.8,0M27.1,115.8a1.5,1.5 0 0 1 2.8,0M33.5,115.8a1.5,1.5 0 0 1 2.8,0M39.8,115.8a1.5,1.5 0 0 1 2.8,0M46.1,115.8a1.5,1.5 0 0 1 2.8,0M52.5,115.8a1.5,1.5 0 0 1 2.8,0M58.8,115.8a1.5,1.5 0 0 1 2.8,0M65.2,115.8a1.5,1.5 0 0 1 2.8,0M4.9,121.3a1.5,1.5 0 0 1 2.8,0M11.3,121.3a1.5,1.5 0 0 1 2.8,0M17.6,121.3a1.5,1.5 0 0 1 2.8,0M24.0,121.3a1.5,1.5 0 0 1 2.8,0M30.3,121.3a1.5,1.5 0 0 1 2.8,0M36.6,121.3a1.5,1.5 0 0 1 2.8,0M43.0,121.3a1.5,1.5 0 0 1 2.8,0M49.3,121.3a1.5,1.5 0 0 1 2.8,0M8.1,126.8a1.5,1.5 0 0 1 2.8,0M14.4,126.8a1.5,1.5 0 0 1 2.8,0M20.8,126.8a1.5,1.5 0 0 1 2.8,0M27.1,126.8a1.5,1.5 0 0 1 2.8,0" stroke="#9a9a9a" stroke-width="0.75"/></g></g>
<path d="M416.8,87.3 C419.60,87.35 428.18,86.98 433.60,87.60 C439.02,88.22 445.00,89.70 449.30,91.00 C453.60,92.30 456.88,93.82 459.40,95.40 C461.92,96.98 463.08,97.90 464.40,100.50 C465.72,103.10 466.47,106.08 467.30,111.00 C468.13,115.92 468.92,124.25 469.40,130.00 C469.88,135.75 470.07,142.92 470.20,145.50 C469.50,147.25 468.03,151.75 466.00,156.00 C463.97,160.25 461.08,165.67 458.00,171.00 C454.92,176.33 451.17,183.00 447.50,188.00 C443.83,193.00 439.58,197.42 436.00,201.00 C432.42,204.58 428.60,207.43 426.00,209.50 C423.40,211.57 421.33,212.75 420.40,213.40 C419.43,213.40 416.33,213.88 414.60,213.40 C412.87,212.92 411.85,212.90 410.00,210.50 C408.15,208.10 405.70,203.58 403.50,199.00 C401.30,194.42 398.28,188.67 396.80,183.00 C395.32,177.33 394.93,172.08 394.60,165.00 C394.27,157.92 394.33,147.67 394.80,140.50 C395.27,133.33 395.97,127.83 397.40,122.00 C398.83,116.17 401.47,110.08 403.40,105.50 C405.33,100.92 406.77,97.53 409.00,94.50 C411.23,91.47 415.50,88.50 416.80,87.30 Z" transform="translate(432.5 150) scale(0.885 0.93) translate(-432.5 -150)" fill="none" stroke="#fcfcfc" stroke-opacity="0.55" stroke-width="5"/>
<path d="M416.8,87.3 C419.60,87.35 428.18,86.98 433.60,87.60 C439.02,88.22 445.00,89.70 449.30,91.00 C453.60,92.30 456.88,93.82 459.40,95.40 C461.92,96.98 463.08,97.90 464.40,100.50 C465.72,103.10 466.47,106.08 467.30,111.00 C468.13,115.92 468.92,124.25 469.40,130.00 C469.88,135.75 470.07,142.92 470.20,145.50 C469.50,147.25 468.03,151.75 466.00,156.00 C463.97,160.25 461.08,165.67 458.00,171.00 C454.92,176.33 451.17,183.00 447.50,188.00 C443.83,193.00 439.58,197.42 436.00,201.00 C432.42,204.58 428.60,207.43 426.00,209.50 C423.40,211.57 421.33,212.75 420.40,213.40 C419.43,213.40 416.33,213.88 414.60,213.40 C412.87,212.92 411.85,212.90 410.00,210.50 C408.15,208.10 405.70,203.58 403.50,199.00 C401.30,194.42 398.28,188.67 396.80,183.00 C395.32,177.33 394.93,172.08 394.60,165.00 C394.27,157.92 394.33,147.67 394.80,140.50 C395.27,133.33 395.97,127.83 397.40,122.00 C398.83,116.17 401.47,110.08 403.40,105.50 C405.33,100.92 406.77,97.53 409.00,94.50 C411.23,91.47 415.50,88.50 416.80,87.30 Z" fill="none" stroke="#2a2a2a" stroke-width="1.4" stroke-linejoin="round"/>
<path d="M416.8,87.3 C419.60,87.35 428.18,86.98 433.60,87.60 C439.02,88.22 445.00,89.70 449.30,91.00 C453.60,92.30 456.88,93.82 459.40,95.40 C461.92,96.98 463.08,97.90 464.40,100.50 C465.72,103.10 466.47,106.08 467.30,111.00 C468.13,115.92 468.92,124.25 469.40,130.00 C469.88,135.75 470.07,142.92 470.20,145.50 C469.50,147.25 468.03,151.75 466.00,156.00 C463.97,160.25 461.08,165.67 458.00,171.00 C454.92,176.33 451.17,183.00 447.50,188.00 C443.83,193.00 439.58,197.42 436.00,201.00 C432.42,204.58 428.60,207.43 426.00,209.50 C423.40,211.57 421.33,212.75 420.40,213.40 C419.43,213.40 416.33,213.88 414.60,213.40 C412.87,212.92 411.85,212.90 410.00,210.50 C408.15,208.10 405.70,203.58 403.50,199.00 C401.30,194.42 398.28,188.67 396.80,183.00 C395.32,177.33 394.93,172.08 394.60,165.00 C394.27,157.92 394.33,147.67 394.80,140.50 C395.27,133.33 395.97,127.83 397.40,122.00 C398.83,116.17 401.47,110.08 403.40,105.50 C405.33,100.92 406.77,97.53 409.00,94.50 C411.23,91.47 415.50,88.50 416.80,87.30 Z" fill="none" stroke="#6e6e6e" stroke-width="0.7" transform="translate(432.5 150) scale(0.957 0.974) translate(-432.5 -150)"/>
<path d="M406.2,106.9 L411,99.7 L427.9,102.3 L431.3,107.4 L426.2,116.6 L409.7,113.3 Z" fill="#cbcccc" stroke="#cbcccc" stroke-width="0.8" stroke-linejoin="round"/>
<g filter="url(#noop)"><g transform="translate(409.3 107.7) rotate(8)" font-family="'Liberation Sans', sans-serif" font-weight="bold" font-style="italic" fill="#8e8e8e"><text x="0" y="0" font-size="5.2px" textLength="10" lengthAdjust="spacingAndGlyphs">AIR</text><text x="10.2" y="1.2" font-size="2.6px" textLength="8.6" lengthAdjust="spacingAndGlyphs">FORCE</text></g></g>
<clipPath id="hc3"><path d="M622.2,368.7 L680.5,338 C679.6,336 678.8,334 678.6,332.2 C679.6,330.4 681.6,329.6 684.6,329.2 C687.6,328.9 690.2,329.8 691,332.2 L694,367.4 L700,440 L667.7,487 L663.8,498.7 C654,496 646,491.6 638.8,487 C634,484 630.4,481.4 627.3,478.5 C621.6,473 617,467 613.8,461 C616.6,447 618.6,432 619.6,418.8 C620.8,408 621.8,398 622.5,390 Z"/></clipPath>
<path d="M622.2,368.7 L680.5,338 C679.6,336 678.8,334 678.6,332.2 C679.6,330.4 681.6,329.6 684.6,329.2 C687.6,328.9 690.2,329.8 691,332.2 L694,367.4 L700,440 L667.7,487 L663.8,498.7 C654,496 646,491.6 638.8,487 C634,484 630.4,481.4 627.3,478.5 C621.6,473 617,467 613.8,461 C616.6,447 618.6,432 619.6,418.8 C620.8,408 621.8,398 622.5,390 Z" fill="#dfe0df"/>
<path d="M603.0,274.8L787.6,345.6M601.1,279.6L785.7,350.5M599.3,284.5L783.8,355.3M597.4,289.3L782.0,360.2M595.5,294.2L780.1,365.0M593.7,299.0L778.2,369.9M591.8,303.9L776.4,374.7M589.9,308.7L774.5,379.6M588.1,313.6L772.7,384.5M586.2,318.5L770.8,389.3M584.3,323.3L768.9,394.2M582.5,328.2L767.1,399.0M580.6,333.0L765.2,403.9M578.8,337.9L763.3,408.7M576.9,342.7L761.5,413.6M575.0,347.6L759.6,418.4M573.2,352.4L757.7,423.3M571.3,357.3L755.9,428.1M569.4,362.1L754.0,433.0M567.6,367.0L752.2,437.9M565.7,371.9L750.3,442.7M563.8,376.7L748.4,447.6M562.0,381.6L746.6,452.4M560.1,386.4L744.7,457.3M558.3,391.3L742.8,462.1M556.4,396.1L741.0,467.0M554.5,401.0L739.1,471.8M552.7,405.8L737.2,476.7M550.8,410.7L735.4,481.5M548.9,415.5L733.5,486.4M547.1,420.4L731.7,491.3M545.2,425.3L729.8,496.1M543.4,430.1L727.9,501.0M541.5,435.0L726.1,505.8M539.6,439.8L724.2,510.7M537.8,444.7L722.3,515.5M535.9,449.5L720.5,520.4M534.0,454.4L718.6,525.2M532.2,459.2L716.7,530.1M530.3,464.1L714.9,534.9M528.4,469.0L713.0,539.8M526.6,473.8L711.2,544.7M524.7,478.7L709.3,549.5" clip-path="url(#hc3)" fill="none" stroke="#444" stroke-width="0.55"/>
<path d="M622.2,368.7 L680.5,338 C679.6,336 678.8,334 678.6,332.2 C679.6,330.4 681.6,329.6 684.6,329.2 C687.6,328.9 690.2,329.8 691,332.2 L694,367.4 L700,440 L667.7,487 L663.8,498.7 C654,496 646,491.6 638.8,487 C634,484 630.4,481.4 627.3,478.5 C621.6,473 617,467 613.8,461 C616.6,447 618.6,432 619.6,418.8 C620.8,408 621.8,398 622.5,390 Z" fill="none" stroke="#2a2a2a" stroke-width="1.1" stroke-linejoin="round"/>
<path d="M680.5,338 L691,332.4" fill="none" stroke="#2a2a2a" stroke-width="0.9"/>
<path d="M680.5,338 C679.6,336 678.8,334 678.6,332.2 C679.6,330.4 681.6,329.6 684.6,329.2 C687.6,328.9 690.2,329.8 691,332.2 Z" fill="#dcdddc" stroke="#2a2a2a" stroke-width="1.0" stroke-linejoin="round"/>
<path d="M591,350 L622,368.7 M659.5,310.5 L687,329.6 M589,444 L614,461" stroke="#666" stroke-width="0.55" fill="none"/>
<path d="M653.6,395 L674.8,368.6 Q688,369.2 699.7,368.5 Q703,367.6 705.5,366.2 Q707,366.4 707.6,368.8 Q711.6,372 712.6,376.4 Q713.8,382 713.8,386.7 L712.9,395.8 Q710.6,410 706.2,422.7 Q699,442 690.8,457.3 L673.5,480.4 Q670,484 667.7,485.2 Q660,488.6 656.2,487.7 Q653.4,486.6 653.3,484.2 L655.2,453.5 Q659.6,448 660,445.8 Q659.6,442.6 658,441 Q653,435 652.3,428.5 Z" fill="#fbfbfb" stroke="#2a2a2a" stroke-width="1.3" stroke-linejoin="round"/>
<g clip-path="url(#kneeclip)"><rect x="640" y="360" width="90" height="140" fill="#fafafa"/><path d="M540.1,373.6L709.2,312.0 M537.5,382.6L648.3,524.4 M568.1,540.0L617.7,367.0 M544.4,379.1L713.5,317.5 M544.1,380.2L654.9,522.0 M574.7,537.6L624.3,364.6 M548.7,384.6L717.9,323.0 M550.7,377.8L661.5,519.7 M581.3,535.2L630.9,362.2 M553.0,390.1L722.2,328.5 M557.2,375.4L668.1,517.3 M587.8,532.8L637.5,359.8 M557.3,395.6L726.5,334.1 M563.8,373.0L674.6,514.9 M594.4,530.5L644.0,357.4 M561.6,401.1L730.8,339.6 M570.4,370.6L681.2,512.5 M601.0,528.1L650.6,355.0 M566.0,406.7L735.1,345.1 M577.0,368.2L687.8,510.1 M607.6,525.7L657.2,352.6 M570.3,412.2L739.4,350.6 M583.5,365.8L694.4,507.7 M614.1,523.3L663.8,350.2 M574.6,417.7L743.7,356.1 M590.1,363.4L700.9,505.3 M620.7,520.9L670.3,347.9 M578.9,423.2L748.0,361.6 M596.7,361.0L707.5,502.9 M627.3,518.5L676.9,345.5 M583.2,428.7L752.3,367.2 M603.3,358.7L714.1,500.5 M633.9,516.1L683.5,343.1 M587.5,434.2L756.6,372.7 M609.9,356.3L720.7,498.1 M640.5,513.7L690.1,340.7 M591.8,439.7L761.0,378.2 M616.4,353.9L727.3,495.7 M647.0,511.3L696.7,338.3 M596.1,445.3L765.3,383.7 M623.0,351.5L733.8,493.3 M653.6,508.9L703.2,335.9 M600.4,450.8L769.6,389.2 M629.6,349.1L740.4,490.9 M660.2,506.5L709.8,333.5 M604.7,456.3L773.9,394.7 M636.2,346.7L747.0,488.5 M666.8,504.1L716.4,331.1 M609.0,461.8L778.2,400.3 M642.7,344.3L753.6,486.1 M673.3,501.7L723.0,328.7 M613.4,467.3L782.5,405.8 M649.3,341.9L760.1,483.7 M679.9,499.3L729.5,326.3 M617.7,472.8L786.8,411.3 M655.9,339.5L766.7,481.3 M686.5,496.9L736.1,323.9 M622.0,478.4L791.1,416.8 M662.5,337.1L773.3,479.0 M693.1,494.5L742.7,321.5 M626.3,483.9L795.4,422.3 M669.1,334.7L779.9,476.6 M699.7,492.1L749.3,319.1 M630.6,489.4L799.7,427.8 M675.6,332.3L786.5,474.2 M706.2,489.8L755.9,316.7 M634.9,494.9L804.0,433.3 M682.2,329.9L793.0,471.8 M712.8,487.4L762.4,314.3 M639.2,500.4L808.4,438.9 M688.8,327.5L799.6,469.4 M719.4,485.0L769.0,311.9 M643.5,505.9L812.7,444.4 M695.4,325.1L806.2,467.0 M726.0,482.6L775.6,309.5 M647.8,511.5L817.0,449.9 M701.9,322.7L812.8,464.6 M732.5,480.2L782.2,307.2 M652.1,517.0L821.3,455.4 M708.5,320.3L819.3,462.2 M739.1,477.8L788.7,304.8 M656.5,522.5L825.6,460.9 M715.1,318.0L825.9,459.8 M745.7,475.4L795.3,302.4 M660.8,528.0L829.9,466.4 M721.7,315.6L832.5,457.4 M752.3,473.0L801.9,300.0" stroke="#828282" stroke-width="0.45" fill="none"/></g>
<path d="M658.4,485.6 L659.8,455.4 Q664,449 664.4,445.6 Q664,442.6 662.9,441.6 Q657.8,436 657.1,430.4 L658.2,397 L678.6,372.4 Q690,372.6 700,371.9 Q704,371.4 706.6,370.6" fill="none" stroke="#2a2a2a" stroke-width="1.0"/>
<path d="M34.9,107.95 H344" fill="none" stroke="#cbcbcb" stroke-width="1.3"/>
<path d="M34.9,264.95 H334.4" fill="none" stroke="#cbcbcb" stroke-width="1.3"/>
<path d="M333.9,264.9 L408.5,210.9" fill="none" stroke="#a4a4a4" stroke-width="0.85"/>
<path d="M34.9,342.55 H444" fill="none" stroke="#cbcbcb" stroke-width="1.3"/>
<path d="M34.9,433.5 H440" fill="none" stroke="#cbcbcb" stroke-width="1.3"/>
<path d="M34.9,554.75 H396" fill="none" stroke="#cbcbcb" stroke-width="1.3"/>
<path d="M582,107.96 H963.4" fill="none" stroke="#cbcbcb" stroke-width="1.3"/>
<path d="M544,212.6 H962.8" fill="none" stroke="#cbcbcb" stroke-width="1.3"/>
<path d="M693.5,349.9 H963.4" fill="none" stroke="#cbcbcb" stroke-width="1.3"/>
<path d="M727.8,485.45 H963.4" fill="none" stroke="#cbcbcb" stroke-width="1.3"/>
<path d="M690.8,457.3 L728.4,485.5" fill="none" stroke="#a4a4a4" stroke-width="0.85"/>
<g font-family="'Liberation Sans', sans-serif" font-weight="bold" font-size="20.5px" fill="#2b2b2b" stroke="#2b2b2b" stroke-width="0.3" filter="url(#noop)">
<text x="35.35" y="76" textLength="77.84" lengthAdjust="spacingAndGlyphs">DuraQL</text>
<text x="112.46" y="79.53" textLength="21.23" lengthAdjust="spacingAndGlyphs" font-size="27.23px" stroke-width="0.5">™</text>
<text x="34.93" y="101" textLength="169.83" lengthAdjust="spacingAndGlyphs">reinforcing layer</text>
<text x="35.08" y="233" textLength="86.94" lengthAdjust="spacingAndGlyphs">AirForce</text>
<text x="121.56" y="236.53" textLength="21.23" lengthAdjust="spacingAndGlyphs" font-size="27.23px" stroke-width="0.5">™</text>
<text x="143.56" y="233" textLength="93.67" lengthAdjust="spacingAndGlyphs">by Shima</text>
<text x="34.51" y="258" textLength="134.42" lengthAdjust="spacingAndGlyphs">hip protector</text>
<text x="34.70" y="336" textLength="266.26" lengthAdjust="spacingAndGlyphs">External protector pocket</text>
<text x="34.62" y="426" textLength="201.47" lengthAdjust="spacingAndGlyphs">Knee shaping darts</text>
<text x="34.61" y="547" textLength="183.71" lengthAdjust="spacingAndGlyphs">Bottom leg zipper</text>
<text x="866.48" y="76" textLength="96.43" lengthAdjust="spacingAndGlyphs">D-Buckle</text>
<text x="853.72" y="101" textLength="108.74" lengthAdjust="spacingAndGlyphs">key holder</text>
<text x="844.03" y="180" textLength="86.19" lengthAdjust="spacingAndGlyphs">Comfort</text>
<text x="930.00" y="180.97" textLength="14.37" lengthAdjust="spacingAndGlyphs" font-size="23.75px" font-weight="normal" stroke-width="0">+</text>
<text x="942.88" y="183.53" textLength="22.57" lengthAdjust="spacingAndGlyphs" font-size="27.23px" stroke-width="0.5">™</text>
<text x="789.46" y="205" textLength="173.56" lengthAdjust="spacingAndGlyphs">seamless gusset</text>
<text x="865.74" y="318" textLength="78.56" lengthAdjust="spacingAndGlyphs">DuraQL</text>
<text x="943.73" y="321.53" textLength="21.72" lengthAdjust="spacingAndGlyphs" font-size="27.23px" stroke-width="0.5">™</text>
<text x="787.01" y="343" textLength="114.65" lengthAdjust="spacingAndGlyphs">reinforcing</text>
<text x="910.15" y="343" textLength="52.96" lengthAdjust="spacingAndGlyphs">layer</text>
<text x="757.58" y="451" textLength="86.84" lengthAdjust="spacingAndGlyphs">AirForce</text>
<text x="844.04" y="454.53" textLength="21.48" lengthAdjust="spacingAndGlyphs" font-size="27.23px" stroke-width="0.5">™</text>
<text x="868.57" y="451" textLength="93.37" lengthAdjust="spacingAndGlyphs">by Shima</text>
<text x="737.20" y="476" textLength="225.10" lengthAdjust="spacingAndGlyphs">level 2 knee protector</text>
</g>
</svg>
</body></html>
